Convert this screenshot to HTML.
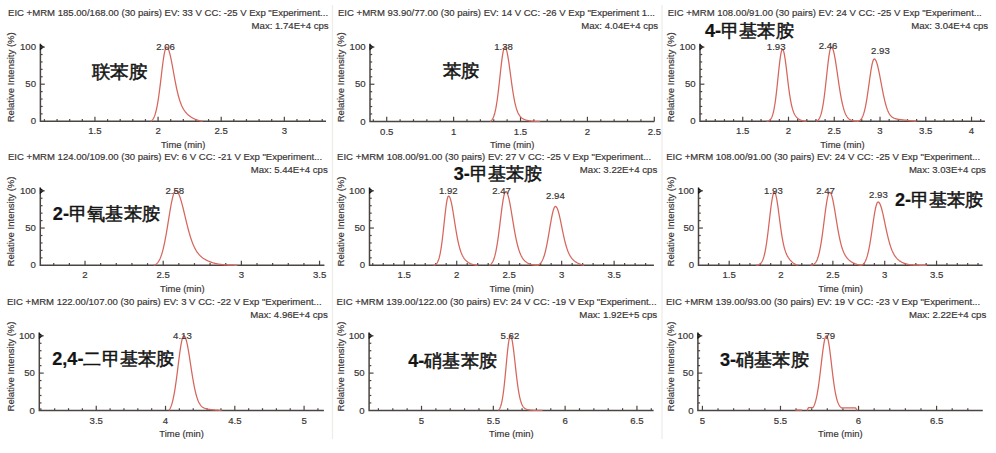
<!DOCTYPE html><html><head><meta charset="utf-8"><style>html,body{margin:0;padding:0;background:#fff;width:996px;height:453px;overflow:hidden}svg{display:block}</style></head><body>
<svg width="996" height="453" viewBox="0 0 996 453">
<rect width="996" height="453" fill="#fff"/>
<line x1="332.5" y1="5" x2="332.5" y2="439" stroke="#efedea" stroke-width="1.3"/>
<line x1="662.0" y1="5" x2="662.0" y2="439" stroke="#efedea" stroke-width="1.3"/>
<g font-family='"Liberation Sans", sans-serif'><text x="8.0" y="15.9" font-size="9.6" fill="#383434" stroke="#383434" stroke-width="0.18" textLength="320.1" lengthAdjust="spacingAndGlyphs">EIC +MRM 185.00/168.00 (30 pairs) EV: 33 V CC: -25 V Exp &quot;Experiment...</text><text x="251.6" y="28.5" font-size="9.6" fill="#383434" stroke="#383434" stroke-width="0.18" textLength="77.0" lengthAdjust="spacingAndGlyphs">Max: 1.74E+4 cps</text><text x="0" y="0" transform="translate(14.3,77.3) rotate(-90)" font-size="9.6" fill="#383434" stroke="#383434" stroke-width="0.18" text-anchor="middle" textLength="90" lengthAdjust="spacingAndGlyphs">Relative Intensity (%)</text><path d="M40.4,43.7 L40.4,121.3 L326.0,121.3" fill="none" stroke="#4a4542" stroke-width="1.5"/><path d="M39.9,43.7 L44.3,47.1 L39.9,50.5 Z" fill="#151515"/><line x1="40.4" y1="113.88" x2="42.6" y2="113.88" stroke="#4a4542" stroke-width="1.2"/><line x1="40.4" y1="106.46" x2="42.6" y2="106.46" stroke="#4a4542" stroke-width="1.2"/><line x1="40.4" y1="99.04" x2="42.6" y2="99.04" stroke="#4a4542" stroke-width="1.2"/><line x1="40.4" y1="91.62" x2="42.6" y2="91.62" stroke="#4a4542" stroke-width="1.2"/><line x1="40.4" y1="84.20" x2="44.8" y2="84.20" stroke="#4a4542" stroke-width="1.2"/><line x1="40.4" y1="76.78" x2="42.6" y2="76.78" stroke="#4a4542" stroke-width="1.2"/><line x1="40.4" y1="69.36" x2="42.6" y2="69.36" stroke="#4a4542" stroke-width="1.2"/><line x1="40.4" y1="61.94" x2="42.6" y2="61.94" stroke="#4a4542" stroke-width="1.2"/><line x1="40.4" y1="54.52" x2="42.6" y2="54.52" stroke="#4a4542" stroke-width="1.2"/><line x1="40.4" y1="47.10" x2="44.8" y2="47.10" stroke="#4a4542" stroke-width="1.2"/><text x="36.0" y="50.20" font-size="9.6" fill="#383434" stroke="#383434" stroke-width="0.18" text-anchor="end">100</text><text x="36.0" y="87.30" font-size="9.6" fill="#383434" stroke="#383434" stroke-width="0.18" text-anchor="end">50</text><text x="36.0" y="124.40" font-size="9.6" fill="#383434" stroke="#383434" stroke-width="0.18" text-anchor="end">0</text><line x1="44.44" y1="121.3" x2="44.44" y2="119.1" stroke="#4a4542" stroke-width="1.2"/><line x1="57.07" y1="121.3" x2="57.07" y2="119.1" stroke="#4a4542" stroke-width="1.2"/><line x1="69.69" y1="121.3" x2="69.69" y2="119.1" stroke="#4a4542" stroke-width="1.2"/><line x1="82.32" y1="121.3" x2="82.32" y2="119.1" stroke="#4a4542" stroke-width="1.2"/><line x1="94.94" y1="121.3" x2="94.94" y2="116.7" stroke="#4a4542" stroke-width="1.2"/><line x1="107.57" y1="121.3" x2="107.57" y2="119.1" stroke="#4a4542" stroke-width="1.2"/><line x1="120.20" y1="121.3" x2="120.20" y2="119.1" stroke="#4a4542" stroke-width="1.2"/><line x1="132.82" y1="121.3" x2="132.82" y2="119.1" stroke="#4a4542" stroke-width="1.2"/><line x1="145.45" y1="121.3" x2="145.45" y2="119.1" stroke="#4a4542" stroke-width="1.2"/><line x1="158.07" y1="121.3" x2="158.07" y2="116.7" stroke="#4a4542" stroke-width="1.2"/><line x1="170.70" y1="121.3" x2="170.70" y2="119.1" stroke="#4a4542" stroke-width="1.2"/><line x1="183.33" y1="121.3" x2="183.33" y2="119.1" stroke="#4a4542" stroke-width="1.2"/><line x1="195.95" y1="121.3" x2="195.95" y2="119.1" stroke="#4a4542" stroke-width="1.2"/><line x1="208.58" y1="121.3" x2="208.58" y2="119.1" stroke="#4a4542" stroke-width="1.2"/><line x1="221.20" y1="121.3" x2="221.20" y2="116.7" stroke="#4a4542" stroke-width="1.2"/><line x1="233.83" y1="121.3" x2="233.83" y2="119.1" stroke="#4a4542" stroke-width="1.2"/><line x1="246.46" y1="121.3" x2="246.46" y2="119.1" stroke="#4a4542" stroke-width="1.2"/><line x1="259.08" y1="121.3" x2="259.08" y2="119.1" stroke="#4a4542" stroke-width="1.2"/><line x1="271.71" y1="121.3" x2="271.71" y2="119.1" stroke="#4a4542" stroke-width="1.2"/><line x1="284.33" y1="121.3" x2="284.33" y2="116.7" stroke="#4a4542" stroke-width="1.2"/><line x1="296.96" y1="121.3" x2="296.96" y2="119.1" stroke="#4a4542" stroke-width="1.2"/><line x1="309.59" y1="121.3" x2="309.59" y2="119.1" stroke="#4a4542" stroke-width="1.2"/><line x1="322.21" y1="121.3" x2="322.21" y2="119.1" stroke="#4a4542" stroke-width="1.2"/><text x="94.94" y="134.40" font-size="9.6" fill="#383434" stroke="#383434" stroke-width="0.18" text-anchor="middle">1.5</text><text x="158.07" y="134.40" font-size="9.6" fill="#383434" stroke="#383434" stroke-width="0.18" text-anchor="middle">2</text><text x="221.20" y="134.40" font-size="9.6" fill="#383434" stroke="#383434" stroke-width="0.18" text-anchor="middle">2.5</text><text x="284.33" y="134.40" font-size="9.6" fill="#383434" stroke="#383434" stroke-width="0.18" text-anchor="middle">3</text><text x="183.20" y="147.50" font-size="9.6" fill="#383434" stroke="#383434" stroke-width="0.18" text-anchor="middle" textLength="44.5" lengthAdjust="spacingAndGlyphs">Time (min)</text><polyline points="150.50,121.30 150.83,121.12 151.16,120.92 151.50,120.68 151.83,120.40 152.16,120.08 152.49,119.71 152.82,119.28 153.15,118.80 153.49,118.25 153.82,117.62 154.15,116.92 154.48,116.13 154.81,115.25 155.15,114.26 155.48,113.18 155.81,111.98 156.14,110.67 156.47,109.24 156.81,107.69 157.14,106.01 157.47,104.21 157.80,102.28 158.13,100.22 158.46,98.05 158.80,95.76 159.13,93.36 159.46,90.86 159.79,88.27 160.12,85.61 160.46,82.88 160.79,80.12 161.12,77.32 161.45,74.53 161.78,71.75 162.11,69.01 162.45,66.33 162.78,63.73 163.11,61.25 163.44,58.90 163.77,56.71 164.11,54.70 164.44,52.88 164.77,51.29 165.10,49.94 165.43,48.83 165.76,47.99 166.10,47.43 166.43,47.14 166.76,47.12 167.09,47.26 167.42,47.55 167.76,47.99 168.09,48.57 168.42,49.29 168.75,50.13 169.08,51.11 169.42,52.20 169.75,53.41 170.08,54.72 170.41,56.12 170.74,57.62 171.07,59.18 171.41,60.82 171.74,62.51 172.07,64.25 172.40,66.03 172.73,67.84 173.07,69.66 173.40,71.50 173.73,73.34 174.06,75.17 174.39,76.99 174.72,78.78 175.06,80.55 175.39,82.29 175.72,83.98 176.05,85.64 176.38,87.25 176.72,88.81 177.05,90.31 177.38,91.76 177.71,93.16 178.04,94.50 178.38,95.78 178.71,97.01 179.04,98.18 179.37,99.29 179.70,100.35 180.03,101.35 180.37,102.31 180.70,103.21 181.03,104.07 181.36,104.88 181.69,105.65 182.03,106.37 182.36,107.06 182.69,107.71 183.02,108.33 183.35,108.91 183.68,109.47 184.02,109.99 184.35,110.49 184.68,110.97 185.01,111.42 185.34,111.85 185.68,112.26 186.01,112.65 186.34,113.03 186.67,113.39 187.00,113.73 187.34,114.06 187.67,114.38 188.00,114.69 188.33,114.98 188.66,115.27 188.99,115.54 189.33,115.81 189.66,116.06 189.99,116.31 190.32,116.55 190.65,116.78 190.99,117.00 191.32,117.22 191.65,117.43 191.98,117.63 192.31,117.82 192.64,118.01 192.98,118.20 193.31,118.37 193.64,118.54 193.97,118.70 194.30,118.86 194.64,119.02 194.97,119.16 195.30,119.30 195.63,119.44 195.96,119.57 196.29,119.70 196.63,119.82 196.96,119.94 197.29,120.05 197.62,120.15 197.95,120.26 198.29,120.36 198.62,120.45 198.95,120.54 199.28,120.63 199.61,120.71 199.95,120.79 200.28,120.86 200.61,120.94 200.94,121.00 201.27,121.07 201.60,121.13 201.94,121.19 202.27,121.25 202.60,121.30" fill="none" stroke="#d6655b" stroke-width="1.25" stroke-linejoin="round"/><text x="165.5" y="49.9" font-size="9.6" fill="#383434" stroke="#383434" stroke-width="0.18" text-anchor="middle">2.06</text><text x="91.9" y="78.3" font-size="18.0" fill="#141414" stroke="#141414" stroke-width="0.5" textLength="55.7" lengthAdjust="spacingAndGlyphs">联苯胺</text></g>
<g font-family='"Liberation Sans", sans-serif'><text x="338.0" y="15.9" font-size="9.6" fill="#383434" stroke="#383434" stroke-width="0.18" textLength="317.0" lengthAdjust="spacingAndGlyphs">EIC +MRM 93.90/77.00 (30 pairs) EV: 14 V CC: -26 V Exp &quot;Experiment 1...</text><text x="581.3" y="28.5" font-size="9.6" fill="#383434" stroke="#383434" stroke-width="0.18" textLength="76.7" lengthAdjust="spacingAndGlyphs">Max: 4.04E+4 cps</text><text x="0" y="0" transform="translate(344.3,77.3) rotate(-90)" font-size="9.6" fill="#383434" stroke="#383434" stroke-width="0.18" text-anchor="middle" textLength="90" lengthAdjust="spacingAndGlyphs">Relative Intensity (%)</text><path d="M370.0,43.7 L370.0,121.4 L654.3,121.4" fill="none" stroke="#4a4542" stroke-width="1.5"/><path d="M369.5,43.7 L373.9,47.1 L369.5,50.5 Z" fill="#151515"/><line x1="370.0" y1="113.97" x2="372.2" y2="113.97" stroke="#4a4542" stroke-width="1.2"/><line x1="370.0" y1="106.54" x2="372.2" y2="106.54" stroke="#4a4542" stroke-width="1.2"/><line x1="370.0" y1="99.11" x2="372.2" y2="99.11" stroke="#4a4542" stroke-width="1.2"/><line x1="370.0" y1="91.68" x2="372.2" y2="91.68" stroke="#4a4542" stroke-width="1.2"/><line x1="370.0" y1="84.25" x2="374.4" y2="84.25" stroke="#4a4542" stroke-width="1.2"/><line x1="370.0" y1="76.82" x2="372.2" y2="76.82" stroke="#4a4542" stroke-width="1.2"/><line x1="370.0" y1="69.39" x2="372.2" y2="69.39" stroke="#4a4542" stroke-width="1.2"/><line x1="370.0" y1="61.96" x2="372.2" y2="61.96" stroke="#4a4542" stroke-width="1.2"/><line x1="370.0" y1="54.53" x2="372.2" y2="54.53" stroke="#4a4542" stroke-width="1.2"/><line x1="370.0" y1="47.10" x2="374.4" y2="47.10" stroke="#4a4542" stroke-width="1.2"/><text x="365.6" y="50.20" font-size="9.6" fill="#383434" stroke="#383434" stroke-width="0.18" text-anchor="end">100</text><text x="365.6" y="87.35" font-size="9.6" fill="#383434" stroke="#383434" stroke-width="0.18" text-anchor="end">50</text><text x="365.6" y="124.50" font-size="9.6" fill="#383434" stroke="#383434" stroke-width="0.18" text-anchor="end">0</text><line x1="373.34" y1="121.4" x2="373.34" y2="119.2" stroke="#4a4542" stroke-width="1.2"/><line x1="386.72" y1="121.4" x2="386.72" y2="116.80000000000001" stroke="#4a4542" stroke-width="1.2"/><line x1="400.10" y1="121.4" x2="400.10" y2="119.2" stroke="#4a4542" stroke-width="1.2"/><line x1="413.48" y1="121.4" x2="413.48" y2="119.2" stroke="#4a4542" stroke-width="1.2"/><line x1="426.86" y1="121.4" x2="426.86" y2="119.2" stroke="#4a4542" stroke-width="1.2"/><line x1="440.24" y1="121.4" x2="440.24" y2="119.2" stroke="#4a4542" stroke-width="1.2"/><line x1="453.62" y1="121.4" x2="453.62" y2="116.80000000000001" stroke="#4a4542" stroke-width="1.2"/><line x1="467.00" y1="121.4" x2="467.00" y2="119.2" stroke="#4a4542" stroke-width="1.2"/><line x1="480.38" y1="121.4" x2="480.38" y2="119.2" stroke="#4a4542" stroke-width="1.2"/><line x1="493.75" y1="121.4" x2="493.75" y2="119.2" stroke="#4a4542" stroke-width="1.2"/><line x1="507.13" y1="121.4" x2="507.13" y2="119.2" stroke="#4a4542" stroke-width="1.2"/><line x1="520.51" y1="121.4" x2="520.51" y2="116.80000000000001" stroke="#4a4542" stroke-width="1.2"/><line x1="533.89" y1="121.4" x2="533.89" y2="119.2" stroke="#4a4542" stroke-width="1.2"/><line x1="547.27" y1="121.4" x2="547.27" y2="119.2" stroke="#4a4542" stroke-width="1.2"/><line x1="560.65" y1="121.4" x2="560.65" y2="119.2" stroke="#4a4542" stroke-width="1.2"/><line x1="574.03" y1="121.4" x2="574.03" y2="119.2" stroke="#4a4542" stroke-width="1.2"/><line x1="587.41" y1="121.4" x2="587.41" y2="116.80000000000001" stroke="#4a4542" stroke-width="1.2"/><line x1="600.78" y1="121.4" x2="600.78" y2="119.2" stroke="#4a4542" stroke-width="1.2"/><line x1="614.16" y1="121.4" x2="614.16" y2="119.2" stroke="#4a4542" stroke-width="1.2"/><line x1="627.54" y1="121.4" x2="627.54" y2="119.2" stroke="#4a4542" stroke-width="1.2"/><line x1="640.92" y1="121.4" x2="640.92" y2="119.2" stroke="#4a4542" stroke-width="1.2"/><line x1="654.30" y1="121.4" x2="654.30" y2="116.80000000000001" stroke="#4a4542" stroke-width="1.2"/><text x="386.72" y="134.50" font-size="9.6" fill="#383434" stroke="#383434" stroke-width="0.18" text-anchor="middle">0.5</text><text x="453.62" y="134.50" font-size="9.6" fill="#383434" stroke="#383434" stroke-width="0.18" text-anchor="middle">1</text><text x="520.51" y="134.50" font-size="9.6" fill="#383434" stroke="#383434" stroke-width="0.18" text-anchor="middle">1.5</text><text x="587.41" y="134.50" font-size="9.6" fill="#383434" stroke="#383434" stroke-width="0.18" text-anchor="middle">2</text><text x="654.30" y="134.50" font-size="9.6" fill="#383434" stroke="#383434" stroke-width="0.18" text-anchor="middle">2.5</text><text x="512.15" y="147.60" font-size="9.6" fill="#383434" stroke="#383434" stroke-width="0.18" text-anchor="middle" textLength="44.5" lengthAdjust="spacingAndGlyphs">Time (min)</text><polyline points="490.20,121.40 490.53,121.20 490.87,120.96 491.20,120.68 491.53,120.35 491.86,119.97 492.20,119.52 492.53,119.00 492.86,118.41 493.19,117.72 493.53,116.95 493.86,116.06 494.19,115.07 494.52,113.95 494.86,112.71 495.19,111.33 495.52,109.81 495.86,108.15 496.19,106.33 496.52,104.37 496.85,102.25 497.19,99.98 497.52,97.57 497.85,95.03 498.18,92.35 498.52,89.57 498.85,86.68 499.18,83.72 499.51,80.70 499.85,77.64 500.18,74.58 500.51,71.53 500.85,68.54 501.18,65.62 501.51,62.82 501.84,60.16 502.18,57.67 502.51,55.38 502.84,53.33 503.17,51.54 503.51,50.02 503.84,48.81 504.17,47.91 504.50,47.34 504.84,47.11 505.17,47.18 505.50,47.51 505.84,48.07 506.17,48.88 506.50,49.91 506.83,51.16 507.17,52.62 507.50,54.26 507.83,56.08 508.16,58.06 508.50,60.16 508.83,62.39 509.16,64.71 509.49,67.10 509.83,69.55 510.16,72.04 510.49,74.54 510.83,77.04 511.16,79.52 511.49,81.96 511.82,84.36 512.16,86.70 512.49,88.97 512.82,91.16 513.15,93.26 513.49,95.26 513.82,97.17 514.15,98.97 514.48,100.68 514.82,102.28 515.15,103.77 515.48,105.17 515.82,106.46 516.15,107.67 516.48,108.78 516.81,109.80 517.15,110.74 517.48,111.61 517.81,112.40 518.14,113.12 518.48,113.78 518.81,114.39 519.14,114.94 519.47,115.44 519.81,115.90 520.14,116.32 520.47,116.70 520.81,117.05 521.14,117.37 521.47,117.67 521.80,117.94 522.14,118.19 522.47,118.42 522.80,118.63 523.13,118.82 523.47,119.00 523.80,119.17 524.13,119.33 524.46,119.47 524.80,119.61 525.13,119.74 525.46,119.86 525.80,119.97 526.13,120.07 526.46,120.17 526.79,120.26 527.13,120.34 527.46,120.42 527.79,120.50 528.12,120.57 528.46,120.63 528.79,120.69 529.12,120.75 529.45,120.80 529.79,120.85 530.12,120.90 530.45,120.94 530.79,120.98 531.12,121.02 531.45,121.05 531.78,121.08 532.12,121.11 532.45,121.14 532.78,121.17 533.11,121.19 533.45,121.21 533.78,121.23 534.11,121.25 534.44,121.27 534.78,121.28 535.11,121.29 535.44,121.31 535.78,121.32 536.11,121.33 536.44,121.34 536.77,121.35 537.11,121.36 537.44,121.36 537.77,121.37 538.10,121.37 538.44,121.38 538.77,121.38 539.10,121.39 539.43,121.39 539.77,121.40 540.10,121.40" fill="none" stroke="#d6655b" stroke-width="1.25" stroke-linejoin="round"/><text x="503.5" y="49.9" font-size="9.6" fill="#383434" stroke="#383434" stroke-width="0.18" text-anchor="middle">1.38</text><text x="442.6" y="77.0" font-size="18.0" fill="#141414" stroke="#141414" stroke-width="0.5" textLength="36.6" lengthAdjust="spacingAndGlyphs">苯胺</text></g>
<g font-family='"Liberation Sans", sans-serif'><text x="667.7" y="15.9" font-size="9.6" fill="#383434" stroke="#383434" stroke-width="0.18" textLength="314.1" lengthAdjust="spacingAndGlyphs">EIC +MRM 108.00/91.00 (30 pairs) EV: 24 V CC: -25 V Exp &quot;Experiment...</text><text x="911.3" y="28.5" font-size="9.6" fill="#383434" stroke="#383434" stroke-width="0.18" textLength="76.8" lengthAdjust="spacingAndGlyphs">Max: 3.04E+4 cps</text><text x="0" y="0" transform="translate(674.3,77.3) rotate(-90)" font-size="9.6" fill="#383434" stroke="#383434" stroke-width="0.18" text-anchor="middle" textLength="90" lengthAdjust="spacingAndGlyphs">Relative Intensity (%)</text><path d="M700.0,43.7 L700.0,121.3 L984.9,121.3" fill="none" stroke="#4a4542" stroke-width="1.5"/><path d="M699.5,43.7 L703.9,47.1 L699.5,50.5 Z" fill="#151515"/><line x1="700.0" y1="113.88" x2="702.2" y2="113.88" stroke="#4a4542" stroke-width="1.2"/><line x1="700.0" y1="106.46" x2="702.2" y2="106.46" stroke="#4a4542" stroke-width="1.2"/><line x1="700.0" y1="99.04" x2="702.2" y2="99.04" stroke="#4a4542" stroke-width="1.2"/><line x1="700.0" y1="91.62" x2="702.2" y2="91.62" stroke="#4a4542" stroke-width="1.2"/><line x1="700.0" y1="84.20" x2="704.4" y2="84.20" stroke="#4a4542" stroke-width="1.2"/><line x1="700.0" y1="76.78" x2="702.2" y2="76.78" stroke="#4a4542" stroke-width="1.2"/><line x1="700.0" y1="69.36" x2="702.2" y2="69.36" stroke="#4a4542" stroke-width="1.2"/><line x1="700.0" y1="61.94" x2="702.2" y2="61.94" stroke="#4a4542" stroke-width="1.2"/><line x1="700.0" y1="54.52" x2="702.2" y2="54.52" stroke="#4a4542" stroke-width="1.2"/><line x1="700.0" y1="47.10" x2="704.4" y2="47.10" stroke="#4a4542" stroke-width="1.2"/><text x="695.6" y="50.20" font-size="9.6" fill="#383434" stroke="#383434" stroke-width="0.18" text-anchor="end">100</text><text x="695.6" y="87.30" font-size="9.6" fill="#383434" stroke="#383434" stroke-width="0.18" text-anchor="end">50</text><text x="695.6" y="124.40" font-size="9.6" fill="#383434" stroke="#383434" stroke-width="0.18" text-anchor="end">0</text><line x1="706.13" y1="121.3" x2="706.13" y2="119.1" stroke="#4a4542" stroke-width="1.2"/><line x1="715.28" y1="121.3" x2="715.28" y2="119.1" stroke="#4a4542" stroke-width="1.2"/><line x1="724.44" y1="121.3" x2="724.44" y2="119.1" stroke="#4a4542" stroke-width="1.2"/><line x1="733.59" y1="121.3" x2="733.59" y2="119.1" stroke="#4a4542" stroke-width="1.2"/><line x1="742.74" y1="121.3" x2="742.74" y2="116.7" stroke="#4a4542" stroke-width="1.2"/><line x1="751.89" y1="121.3" x2="751.89" y2="119.1" stroke="#4a4542" stroke-width="1.2"/><line x1="761.04" y1="121.3" x2="761.04" y2="119.1" stroke="#4a4542" stroke-width="1.2"/><line x1="770.20" y1="121.3" x2="770.20" y2="119.1" stroke="#4a4542" stroke-width="1.2"/><line x1="779.35" y1="121.3" x2="779.35" y2="119.1" stroke="#4a4542" stroke-width="1.2"/><line x1="788.50" y1="121.3" x2="788.50" y2="116.7" stroke="#4a4542" stroke-width="1.2"/><line x1="797.65" y1="121.3" x2="797.65" y2="119.1" stroke="#4a4542" stroke-width="1.2"/><line x1="806.80" y1="121.3" x2="806.80" y2="119.1" stroke="#4a4542" stroke-width="1.2"/><line x1="815.96" y1="121.3" x2="815.96" y2="119.1" stroke="#4a4542" stroke-width="1.2"/><line x1="825.11" y1="121.3" x2="825.11" y2="119.1" stroke="#4a4542" stroke-width="1.2"/><line x1="834.26" y1="121.3" x2="834.26" y2="116.7" stroke="#4a4542" stroke-width="1.2"/><line x1="843.41" y1="121.3" x2="843.41" y2="119.1" stroke="#4a4542" stroke-width="1.2"/><line x1="852.56" y1="121.3" x2="852.56" y2="119.1" stroke="#4a4542" stroke-width="1.2"/><line x1="861.71" y1="121.3" x2="861.71" y2="119.1" stroke="#4a4542" stroke-width="1.2"/><line x1="870.87" y1="121.3" x2="870.87" y2="119.1" stroke="#4a4542" stroke-width="1.2"/><line x1="880.02" y1="121.3" x2="880.02" y2="116.7" stroke="#4a4542" stroke-width="1.2"/><line x1="889.17" y1="121.3" x2="889.17" y2="119.1" stroke="#4a4542" stroke-width="1.2"/><line x1="898.32" y1="121.3" x2="898.32" y2="119.1" stroke="#4a4542" stroke-width="1.2"/><line x1="907.47" y1="121.3" x2="907.47" y2="119.1" stroke="#4a4542" stroke-width="1.2"/><line x1="916.63" y1="121.3" x2="916.63" y2="119.1" stroke="#4a4542" stroke-width="1.2"/><line x1="925.78" y1="121.3" x2="925.78" y2="116.7" stroke="#4a4542" stroke-width="1.2"/><line x1="934.93" y1="121.3" x2="934.93" y2="119.1" stroke="#4a4542" stroke-width="1.2"/><line x1="944.08" y1="121.3" x2="944.08" y2="119.1" stroke="#4a4542" stroke-width="1.2"/><line x1="953.23" y1="121.3" x2="953.23" y2="119.1" stroke="#4a4542" stroke-width="1.2"/><line x1="962.39" y1="121.3" x2="962.39" y2="119.1" stroke="#4a4542" stroke-width="1.2"/><line x1="971.54" y1="121.3" x2="971.54" y2="116.7" stroke="#4a4542" stroke-width="1.2"/><line x1="980.69" y1="121.3" x2="980.69" y2="119.1" stroke="#4a4542" stroke-width="1.2"/><text x="742.74" y="134.40" font-size="9.6" fill="#383434" stroke="#383434" stroke-width="0.18" text-anchor="middle">1.5</text><text x="788.50" y="134.40" font-size="9.6" fill="#383434" stroke="#383434" stroke-width="0.18" text-anchor="middle">2</text><text x="834.26" y="134.40" font-size="9.6" fill="#383434" stroke="#383434" stroke-width="0.18" text-anchor="middle">2.5</text><text x="880.02" y="134.40" font-size="9.6" fill="#383434" stroke="#383434" stroke-width="0.18" text-anchor="middle">3</text><text x="925.78" y="134.40" font-size="9.6" fill="#383434" stroke="#383434" stroke-width="0.18" text-anchor="middle">3.5</text><text x="971.54" y="134.40" font-size="9.6" fill="#383434" stroke="#383434" stroke-width="0.18" text-anchor="middle">4</text><text x="842.45" y="147.50" font-size="9.6" fill="#383434" stroke="#383434" stroke-width="0.18" text-anchor="middle" textLength="44.5" lengthAdjust="spacingAndGlyphs">Time (min)</text><polyline points="766.70,121.30 767.03,121.26 767.37,121.20 767.70,121.13 768.03,121.04 768.36,120.93 768.70,120.80 769.03,120.64 769.36,120.44 769.69,120.20 770.03,119.91 770.36,119.56 770.69,119.15 771.02,118.66 771.36,118.09 771.69,117.43 772.02,116.66 772.35,115.78 772.69,114.77 773.02,113.62 773.35,112.33 773.68,110.87 774.01,109.26 774.35,107.48 774.68,105.52 775.01,103.38 775.35,101.08 775.68,98.60 776.01,95.96 776.34,93.17 776.68,90.25 777.01,87.21 777.34,84.08 777.67,80.88 778.00,77.66 778.34,74.43 778.67,71.24 779.00,68.13 779.34,65.13 779.67,62.29 780.00,59.64 780.33,57.23 780.67,55.08 781.00,53.24 781.33,51.72 781.66,50.56 782.00,49.78 782.33,49.38 782.66,49.37 782.99,49.70 783.33,50.36 783.66,51.34 783.99,52.62 784.32,54.20 784.66,56.03 784.99,58.10 785.32,60.37 785.65,62.82 785.99,65.40 786.32,68.10 786.65,70.86 786.98,73.67 787.32,76.50 787.65,79.30 787.98,82.07 788.31,84.77 788.64,87.39 788.98,89.91 789.31,92.32 789.64,94.60 789.98,96.76 790.31,98.78 790.64,100.67 790.97,102.43 791.31,104.05 791.64,105.54 791.97,106.92 792.30,108.18 792.63,109.33 792.97,110.38 793.30,111.33 793.63,112.20 793.97,112.99 794.30,113.71 794.63,114.36 794.96,114.96 795.30,115.50 795.63,115.99 795.96,116.45 796.29,116.86 796.62,117.24 796.96,117.59 797.29,117.92 797.62,118.21 797.96,118.49 798.29,118.74 798.62,118.97 798.95,119.19 799.29,119.39 799.62,119.57 799.95,119.74 800.28,119.90 800.62,120.04 800.95,120.18 801.28,120.30 801.61,120.42 801.95,120.52 802.28,120.62 802.61,120.70 802.94,120.78 803.27,120.86 803.61,120.92 803.94,120.98 804.27,121.04 804.61,121.09 804.94,121.13 805.27,121.17 805.60,121.21 805.94,121.24 806.27,121.27 806.60,121.30" fill="none" stroke="#d6655b" stroke-width="1.25" stroke-linejoin="round"/><polyline points="815.90,121.30 816.23,121.19 816.56,121.06 816.89,120.90 817.23,120.71 817.56,120.48 817.89,120.21 818.22,119.89 818.55,119.52 818.88,119.08 819.21,118.57 819.55,117.99 819.88,117.31 820.21,116.54 820.54,115.66 820.87,114.67 821.20,113.56 821.54,112.32 821.87,110.94 822.20,109.41 822.53,107.73 822.86,105.90 823.19,103.92 823.52,101.78 823.86,99.49 824.19,97.05 824.52,94.47 824.85,91.76 825.18,88.93 825.51,86.01 825.84,83.01 826.18,79.95 826.51,76.87 826.84,73.78 827.17,70.71 827.50,67.70 827.83,64.78 828.17,61.99 828.50,59.34 828.83,56.89 829.16,54.65 829.49,52.66 829.82,50.94 830.15,49.52 830.49,48.41 830.82,47.64 831.15,47.20 831.48,47.11 831.81,47.26 832.14,47.61 832.47,48.17 832.81,48.92 833.14,49.86 833.47,50.97 833.80,52.27 834.13,53.72 834.46,55.32 834.80,57.05 835.13,58.91 835.46,60.88 835.79,62.94 836.12,65.08 836.45,67.28 836.78,69.53 837.12,71.82 837.45,74.12 837.78,76.44 838.11,78.74 838.44,81.03 838.77,83.29 839.10,85.50 839.44,87.67 839.77,89.78 840.10,91.83 840.43,93.81 840.76,95.71 841.09,97.53 841.43,99.27 841.76,100.93 842.09,102.50 842.42,103.98 842.75,105.38 843.08,106.69 843.41,107.92 843.75,109.07 844.08,110.14 844.41,111.13 844.74,112.06 845.07,112.91 845.40,113.69 845.73,114.41 846.07,115.08 846.40,115.68 846.73,116.24 847.06,116.74 847.39,117.21 847.72,117.63 848.06,118.01 848.39,118.35 848.72,118.67 849.05,118.95 849.38,119.21 849.71,119.44 850.04,119.65 850.38,119.83 850.71,120.00 851.04,120.15 851.37,120.29 851.70,120.41 852.03,120.52 852.36,120.62 852.70,120.70 853.03,120.78 853.36,120.85 853.69,120.91 854.02,120.97 854.35,121.02 854.69,121.06 855.02,121.10 855.35,121.13 855.68,121.17 856.01,121.19 856.34,121.22 856.67,121.24 857.01,121.26 857.34,121.27 857.67,121.29 858.00,121.30" fill="none" stroke="#d6655b" stroke-width="1.25" stroke-linejoin="round"/><polyline points="858.00,121.30 858.33,121.19 858.66,121.06 859.00,120.91 859.33,120.73 859.66,120.52 859.99,120.27 860.33,119.99 860.66,119.66 860.99,119.28 861.32,118.84 861.66,118.35 861.99,117.79 862.32,117.15 862.65,116.44 862.99,115.65 863.32,114.76 863.65,113.78 863.98,112.69 864.32,111.51 864.65,110.21 864.98,108.81 865.31,107.29 865.64,105.66 865.98,103.92 866.31,102.07 866.64,100.12 866.97,98.07 867.31,95.93 867.64,93.71 867.97,91.42 868.30,89.08 868.64,86.69 868.97,84.29 869.30,81.87 869.63,79.48 869.97,77.12 870.30,74.81 870.63,72.59 870.96,70.46 871.30,68.46 871.63,66.61 871.96,64.91 872.29,63.40 872.62,62.09 872.96,60.99 873.29,60.12 873.62,59.49 873.95,59.11 874.29,58.97 874.62,59.04 874.95,59.25 875.28,59.61 875.62,60.10 875.95,60.74 876.28,61.50 876.61,62.40 876.95,63.41 877.28,64.54 877.61,65.77 877.94,67.10 878.28,68.52 878.61,70.02 878.94,71.59 879.27,73.22 879.61,74.90 879.94,76.62 880.27,78.37 880.60,80.14 880.93,81.92 881.27,83.71 881.60,85.49 881.93,87.25 882.26,88.99 882.60,90.71 882.93,92.38 883.26,94.02 883.59,95.61 883.93,97.15 884.26,98.64 884.59,100.07 884.92,101.44 885.26,102.74 885.59,103.99 885.92,105.17 886.25,106.29 886.59,107.34 886.92,108.33 887.25,109.26 887.58,110.12 887.91,110.93 888.25,111.68 888.58,112.38 888.91,113.02 889.24,113.61 889.58,114.16 889.91,114.66 890.24,115.12 890.57,115.54 890.91,115.92 891.24,116.27 891.57,116.59 891.90,116.88 892.24,117.14 892.57,117.38 892.90,117.59 893.23,117.79 893.57,117.96 893.90,118.12 894.23,118.27 894.56,118.40 894.89,118.52 895.23,118.63 895.56,118.72 895.89,118.82 896.22,118.90 896.56,118.98 896.89,119.05 897.22,119.11 897.55,119.18 897.89,119.23 898.22,119.29 898.55,119.34 898.88,119.39 899.22,119.44 899.55,119.49 899.88,119.53 900.21,119.58 900.55,119.62 900.88,119.66 901.21,119.70 901.54,119.74 901.88,119.78 902.21,119.82 902.54,119.86 902.87,119.90 903.20,119.93 903.54,119.97 903.87,120.01 904.20,120.05 904.53,120.08 904.87,120.12 905.20,120.16 905.53,120.20 905.86,120.23 906.20,120.27 906.53,120.30 906.86,120.34 907.19,120.38 907.53,120.41 907.86,120.45 908.19,120.48 908.52,120.52 908.86,120.55 909.19,120.59 909.52,120.62 909.85,120.66 910.18,120.69 910.52,120.73 910.85,120.76 911.18,120.79 911.51,120.83 911.85,120.86 912.18,120.89 912.51,120.93 912.84,120.96 913.18,120.99 913.51,121.02 913.84,121.06 914.17,121.09 914.51,121.12 914.84,121.15 915.17,121.18 915.50,121.21 915.84,121.24 916.17,121.27 916.50,121.30" fill="none" stroke="#d6655b" stroke-width="1.25" stroke-linejoin="round"/><text x="776.2" y="49.5" font-size="9.6" fill="#383434" stroke="#383434" stroke-width="0.18" text-anchor="middle">1.93</text><text x="828.1" y="49.3" font-size="9.6" fill="#383434" stroke="#383434" stroke-width="0.18" text-anchor="middle">2.46</text><text x="880.4" y="54.3" font-size="9.6" fill="#383434" stroke="#383434" stroke-width="0.18" text-anchor="middle">2.93</text><text x="704.9" y="37.4" font-size="18.0" fill="#141414" stroke="#141414" stroke-width="0.5" textLength="89.0" lengthAdjust="spacingAndGlyphs"><tspan font-weight="bold" stroke-width="0.2">4-</tspan>甲基苯胺</text></g>
<g font-family='"Liberation Sans", sans-serif'><text x="8.0" y="160.1" font-size="9.6" fill="#383434" stroke="#383434" stroke-width="0.18" textLength="314.1" lengthAdjust="spacingAndGlyphs">EIC +MRM 124.00/109.00 (30 pairs) EV: 6 V CC: -21 V Exp &quot;Experiment...</text><text x="250.8" y="172.6" font-size="9.6" fill="#383434" stroke="#383434" stroke-width="0.18" textLength="76.9" lengthAdjust="spacingAndGlyphs">Max: 5.44E+4 cps</text><text x="0" y="0" transform="translate(14.3,221.5) rotate(-90)" font-size="9.6" fill="#383434" stroke="#383434" stroke-width="0.18" text-anchor="middle" textLength="90" lengthAdjust="spacingAndGlyphs">Relative Intensity (%)</text><path d="M40.3,187.4 L40.3,265.3 L324.4,265.3" fill="none" stroke="#4a4542" stroke-width="1.5"/><path d="M39.8,187.4 L44.199999999999996,190.8 L39.8,194.20000000000002 Z" fill="#151515"/><line x1="40.3" y1="257.85" x2="42.5" y2="257.85" stroke="#4a4542" stroke-width="1.2"/><line x1="40.3" y1="250.40" x2="42.5" y2="250.40" stroke="#4a4542" stroke-width="1.2"/><line x1="40.3" y1="242.95" x2="42.5" y2="242.95" stroke="#4a4542" stroke-width="1.2"/><line x1="40.3" y1="235.50" x2="42.5" y2="235.50" stroke="#4a4542" stroke-width="1.2"/><line x1="40.3" y1="228.05" x2="44.699999999999996" y2="228.05" stroke="#4a4542" stroke-width="1.2"/><line x1="40.3" y1="220.60" x2="42.5" y2="220.60" stroke="#4a4542" stroke-width="1.2"/><line x1="40.3" y1="213.15" x2="42.5" y2="213.15" stroke="#4a4542" stroke-width="1.2"/><line x1="40.3" y1="205.70" x2="42.5" y2="205.70" stroke="#4a4542" stroke-width="1.2"/><line x1="40.3" y1="198.25" x2="42.5" y2="198.25" stroke="#4a4542" stroke-width="1.2"/><line x1="40.3" y1="190.80" x2="44.699999999999996" y2="190.80" stroke="#4a4542" stroke-width="1.2"/><text x="35.9" y="193.90" font-size="9.6" fill="#383434" stroke="#383434" stroke-width="0.18" text-anchor="end">100</text><text x="35.9" y="231.15" font-size="9.6" fill="#383434" stroke="#383434" stroke-width="0.18" text-anchor="end">50</text><text x="35.9" y="268.40" font-size="9.6" fill="#383434" stroke="#383434" stroke-width="0.18" text-anchor="end">0</text><line x1="53.75" y1="265.3" x2="53.75" y2="263.1" stroke="#4a4542" stroke-width="1.2"/><line x1="69.38" y1="265.3" x2="69.38" y2="263.1" stroke="#4a4542" stroke-width="1.2"/><line x1="85.02" y1="265.3" x2="85.02" y2="260.7" stroke="#4a4542" stroke-width="1.2"/><line x1="100.65" y1="265.3" x2="100.65" y2="263.1" stroke="#4a4542" stroke-width="1.2"/><line x1="116.29" y1="265.3" x2="116.29" y2="263.1" stroke="#4a4542" stroke-width="1.2"/><line x1="131.92" y1="265.3" x2="131.92" y2="263.1" stroke="#4a4542" stroke-width="1.2"/><line x1="147.56" y1="265.3" x2="147.56" y2="263.1" stroke="#4a4542" stroke-width="1.2"/><line x1="163.20" y1="265.3" x2="163.20" y2="260.7" stroke="#4a4542" stroke-width="1.2"/><line x1="178.83" y1="265.3" x2="178.83" y2="263.1" stroke="#4a4542" stroke-width="1.2"/><line x1="194.47" y1="265.3" x2="194.47" y2="263.1" stroke="#4a4542" stroke-width="1.2"/><line x1="210.10" y1="265.3" x2="210.10" y2="263.1" stroke="#4a4542" stroke-width="1.2"/><line x1="225.74" y1="265.3" x2="225.74" y2="263.1" stroke="#4a4542" stroke-width="1.2"/><line x1="241.37" y1="265.3" x2="241.37" y2="260.7" stroke="#4a4542" stroke-width="1.2"/><line x1="257.01" y1="265.3" x2="257.01" y2="263.1" stroke="#4a4542" stroke-width="1.2"/><line x1="272.65" y1="265.3" x2="272.65" y2="263.1" stroke="#4a4542" stroke-width="1.2"/><line x1="288.28" y1="265.3" x2="288.28" y2="263.1" stroke="#4a4542" stroke-width="1.2"/><line x1="303.92" y1="265.3" x2="303.92" y2="263.1" stroke="#4a4542" stroke-width="1.2"/><line x1="319.55" y1="265.3" x2="319.55" y2="260.7" stroke="#4a4542" stroke-width="1.2"/><text x="85.02" y="278.40" font-size="9.6" fill="#383434" stroke="#383434" stroke-width="0.18" text-anchor="middle">2</text><text x="163.20" y="278.40" font-size="9.6" fill="#383434" stroke="#383434" stroke-width="0.18" text-anchor="middle">2.5</text><text x="241.37" y="278.40" font-size="9.6" fill="#383434" stroke="#383434" stroke-width="0.18" text-anchor="middle">3</text><text x="319.55" y="278.40" font-size="9.6" fill="#383434" stroke="#383434" stroke-width="0.18" text-anchor="middle">3.5</text><text x="182.35" y="291.50" font-size="9.6" fill="#383434" stroke="#383434" stroke-width="0.18" text-anchor="middle" textLength="44.5" lengthAdjust="spacingAndGlyphs">Time (min)</text><polyline points="153.90,265.30 154.23,265.17 154.57,265.03 154.90,264.87 155.23,264.69 155.56,264.49 155.90,264.26 156.23,264.01 156.56,263.74 156.89,263.43 157.23,263.09 157.56,262.72 157.89,262.32 158.22,261.87 158.56,261.38 158.89,260.85 159.22,260.26 159.56,259.63 159.89,258.95 160.22,258.22 160.55,257.42 160.89,256.57 161.22,255.65 161.55,254.68 161.88,253.63 162.22,252.52 162.55,251.35 162.88,250.10 163.21,248.79 163.55,247.40 163.88,245.95 164.21,244.43 164.55,242.85 164.88,241.20 165.21,239.49 165.54,237.71 165.88,235.89 166.21,234.01 166.54,232.09 166.87,230.13 167.21,228.13 167.54,226.10 167.87,224.05 168.20,221.99 168.54,219.92 168.87,217.85 169.20,215.80 169.54,213.76 169.87,211.76 170.20,209.79 170.53,207.87 170.87,206.01 171.20,204.22 171.53,202.50 171.86,200.87 172.20,199.34 172.53,197.91 172.86,196.59 173.19,195.39 173.53,194.32 173.86,193.38 174.19,192.58 174.53,191.92 174.86,191.42 175.19,191.06 175.52,190.85 175.86,190.80 176.19,190.86 176.52,191.00 176.85,191.22 177.19,191.53 177.52,191.92 177.85,192.39 178.18,192.94 178.52,193.57 178.85,194.26 179.18,195.03 179.52,195.87 179.85,196.77 180.18,197.73 180.51,198.76 180.85,199.83 181.18,200.95 181.51,202.12 181.84,203.34 182.18,204.59 182.51,205.87 182.84,207.18 183.17,208.52 183.51,209.88 183.84,211.25 184.17,212.64 184.51,214.04 184.84,215.44 185.17,216.84 185.50,218.24 185.84,219.64 186.17,221.02 186.50,222.40 186.83,223.76 187.17,225.10 187.50,226.42 187.83,227.72 188.16,229.00 188.50,230.25 188.83,231.48 189.16,232.67 189.50,233.84 189.83,234.97 190.16,236.08 190.49,237.15 190.83,238.19 191.16,239.19 191.49,240.17 191.82,241.11 192.16,242.01 192.49,242.89 192.82,243.73 193.15,244.54 193.49,245.32 193.82,246.07 194.15,246.78 194.49,247.47 194.82,248.13 195.15,248.77 195.48,249.38 195.82,249.96 196.15,250.51 196.48,251.05 196.81,251.56 197.15,252.05 197.48,252.52 197.81,252.97 198.15,253.40 198.48,253.81 198.81,254.21 199.14,254.59 199.48,254.95 199.81,255.30 200.14,255.64 200.47,255.96 200.81,256.27 201.14,256.57 201.47,256.86 201.80,257.14 202.14,257.41 202.47,257.67 202.80,257.91 203.14,258.16 203.47,258.39 203.80,258.62 204.13,258.83 204.47,259.05 204.80,259.25 205.13,259.45 205.46,259.64 205.80,259.83 206.13,260.01 206.46,260.19 206.79,260.36 207.13,260.53 207.46,260.69 207.79,260.84 208.13,261.00 208.46,261.15 208.79,261.29 209.12,261.43 209.46,261.57 209.79,261.70 210.12,261.83 210.45,261.95 210.79,262.08 211.12,262.19 211.45,262.31 211.78,262.42 212.12,262.53 212.45,262.63 212.78,262.74 213.12,262.83 213.45,262.93 213.78,263.02 214.11,263.11 214.45,263.20 214.78,263.29 215.11,263.37 215.44,263.45 215.78,263.52 216.11,263.60 216.44,263.67 216.77,263.74 217.11,263.81 217.44,263.87 217.77,263.94 218.11,264.00 218.44,264.05 218.77,264.11 219.10,264.16 219.44,264.22 219.77,264.27 220.10,264.32 220.43,264.36 220.77,264.41 221.10,264.45 221.43,264.49 221.76,264.53 222.10,264.57 222.43,264.61 222.76,264.64 223.10,264.68 223.43,264.71 223.76,264.74 224.09,264.77 224.43,264.80 224.76,264.83 225.09,264.85 225.42,264.88 225.76,264.90 226.09,264.93 226.42,264.95 226.75,264.97 227.09,264.99 227.42,265.01 227.75,265.03 228.09,265.04 228.42,265.06 228.75,265.08 229.08,265.09 229.42,265.11 229.75,265.12 230.08,265.13 230.41,265.15 230.75,265.16 231.08,265.17 231.41,265.18 231.74,265.19 232.08,265.20 232.41,265.21 232.74,265.22 233.08,265.23 233.41,265.23 233.74,265.24 234.07,265.25 234.41,265.25 234.74,265.26 235.07,265.27 235.40,265.27 235.74,265.28 236.07,265.28 236.40,265.29 236.73,265.29 237.07,265.30 237.40,265.30" fill="none" stroke="#d6655b" stroke-width="1.25" stroke-linejoin="round"/><text x="174.8" y="193.5" font-size="9.6" fill="#383434" stroke="#383434" stroke-width="0.18" text-anchor="middle">2.58</text><text x="52.8" y="219.9" font-size="18.0" fill="#141414" stroke="#141414" stroke-width="0.5" textLength="107.3" lengthAdjust="spacingAndGlyphs"><tspan font-weight="bold" stroke-width="0.2">2-</tspan>甲氧基苯胺</text></g>
<g font-family='"Liberation Sans", sans-serif'><text x="337.1" y="160.0" font-size="9.6" fill="#383434" stroke="#383434" stroke-width="0.18" textLength="314.0" lengthAdjust="spacingAndGlyphs">EIC +MRM 108.00/91.00 (30 pairs) EV: 27 V CC: -25 V Exp &quot;Experiment...</text><text x="579.8" y="172.6" font-size="9.6" fill="#383434" stroke="#383434" stroke-width="0.18" textLength="77.4" lengthAdjust="spacingAndGlyphs">Max: 3.22E+4 cps</text><text x="0" y="0" transform="translate(344.3,221.5) rotate(-90)" font-size="9.6" fill="#383434" stroke="#383434" stroke-width="0.18" text-anchor="middle" textLength="90" lengthAdjust="spacingAndGlyphs">Relative Intensity (%)</text><path d="M369.5,187.4 L369.5,265.3 L653.9,265.3" fill="none" stroke="#4a4542" stroke-width="1.5"/><path d="M369.0,187.4 L373.4,190.8 L369.0,194.20000000000002 Z" fill="#151515"/><line x1="369.5" y1="257.85" x2="371.7" y2="257.85" stroke="#4a4542" stroke-width="1.2"/><line x1="369.5" y1="250.40" x2="371.7" y2="250.40" stroke="#4a4542" stroke-width="1.2"/><line x1="369.5" y1="242.95" x2="371.7" y2="242.95" stroke="#4a4542" stroke-width="1.2"/><line x1="369.5" y1="235.50" x2="371.7" y2="235.50" stroke="#4a4542" stroke-width="1.2"/><line x1="369.5" y1="228.05" x2="373.9" y2="228.05" stroke="#4a4542" stroke-width="1.2"/><line x1="369.5" y1="220.60" x2="371.7" y2="220.60" stroke="#4a4542" stroke-width="1.2"/><line x1="369.5" y1="213.15" x2="371.7" y2="213.15" stroke="#4a4542" stroke-width="1.2"/><line x1="369.5" y1="205.70" x2="371.7" y2="205.70" stroke="#4a4542" stroke-width="1.2"/><line x1="369.5" y1="198.25" x2="371.7" y2="198.25" stroke="#4a4542" stroke-width="1.2"/><line x1="369.5" y1="190.80" x2="373.9" y2="190.80" stroke="#4a4542" stroke-width="1.2"/><text x="365.1" y="193.90" font-size="9.6" fill="#383434" stroke="#383434" stroke-width="0.18" text-anchor="end">100</text><text x="365.1" y="231.15" font-size="9.6" fill="#383434" stroke="#383434" stroke-width="0.18" text-anchor="end">50</text><text x="365.1" y="268.40" font-size="9.6" fill="#383434" stroke="#383434" stroke-width="0.18" text-anchor="end">0</text><line x1="372.75" y1="265.3" x2="372.75" y2="263.1" stroke="#4a4542" stroke-width="1.2"/><line x1="383.25" y1="265.3" x2="383.25" y2="263.1" stroke="#4a4542" stroke-width="1.2"/><line x1="393.74" y1="265.3" x2="393.74" y2="263.1" stroke="#4a4542" stroke-width="1.2"/><line x1="404.24" y1="265.3" x2="404.24" y2="260.7" stroke="#4a4542" stroke-width="1.2"/><line x1="414.73" y1="265.3" x2="414.73" y2="263.1" stroke="#4a4542" stroke-width="1.2"/><line x1="425.23" y1="265.3" x2="425.23" y2="263.1" stroke="#4a4542" stroke-width="1.2"/><line x1="435.72" y1="265.3" x2="435.72" y2="263.1" stroke="#4a4542" stroke-width="1.2"/><line x1="446.21" y1="265.3" x2="446.21" y2="263.1" stroke="#4a4542" stroke-width="1.2"/><line x1="456.71" y1="265.3" x2="456.71" y2="260.7" stroke="#4a4542" stroke-width="1.2"/><line x1="467.20" y1="265.3" x2="467.20" y2="263.1" stroke="#4a4542" stroke-width="1.2"/><line x1="477.70" y1="265.3" x2="477.70" y2="263.1" stroke="#4a4542" stroke-width="1.2"/><line x1="488.19" y1="265.3" x2="488.19" y2="263.1" stroke="#4a4542" stroke-width="1.2"/><line x1="498.69" y1="265.3" x2="498.69" y2="263.1" stroke="#4a4542" stroke-width="1.2"/><line x1="509.18" y1="265.3" x2="509.18" y2="260.7" stroke="#4a4542" stroke-width="1.2"/><line x1="519.68" y1="265.3" x2="519.68" y2="263.1" stroke="#4a4542" stroke-width="1.2"/><line x1="530.17" y1="265.3" x2="530.17" y2="263.1" stroke="#4a4542" stroke-width="1.2"/><line x1="540.66" y1="265.3" x2="540.66" y2="263.1" stroke="#4a4542" stroke-width="1.2"/><line x1="551.16" y1="265.3" x2="551.16" y2="263.1" stroke="#4a4542" stroke-width="1.2"/><line x1="561.65" y1="265.3" x2="561.65" y2="260.7" stroke="#4a4542" stroke-width="1.2"/><line x1="572.15" y1="265.3" x2="572.15" y2="263.1" stroke="#4a4542" stroke-width="1.2"/><line x1="582.64" y1="265.3" x2="582.64" y2="263.1" stroke="#4a4542" stroke-width="1.2"/><line x1="593.14" y1="265.3" x2="593.14" y2="263.1" stroke="#4a4542" stroke-width="1.2"/><line x1="603.63" y1="265.3" x2="603.63" y2="263.1" stroke="#4a4542" stroke-width="1.2"/><line x1="614.13" y1="265.3" x2="614.13" y2="260.7" stroke="#4a4542" stroke-width="1.2"/><line x1="624.62" y1="265.3" x2="624.62" y2="263.1" stroke="#4a4542" stroke-width="1.2"/><line x1="635.11" y1="265.3" x2="635.11" y2="263.1" stroke="#4a4542" stroke-width="1.2"/><line x1="645.61" y1="265.3" x2="645.61" y2="263.1" stroke="#4a4542" stroke-width="1.2"/><text x="404.24" y="278.40" font-size="9.6" fill="#383434" stroke="#383434" stroke-width="0.18" text-anchor="middle">1.5</text><text x="456.71" y="278.40" font-size="9.6" fill="#383434" stroke="#383434" stroke-width="0.18" text-anchor="middle">2</text><text x="509.18" y="278.40" font-size="9.6" fill="#383434" stroke="#383434" stroke-width="0.18" text-anchor="middle">2.5</text><text x="561.65" y="278.40" font-size="9.6" fill="#383434" stroke="#383434" stroke-width="0.18" text-anchor="middle">3</text><text x="614.13" y="278.40" font-size="9.6" fill="#383434" stroke="#383434" stroke-width="0.18" text-anchor="middle">3.5</text><text x="511.70" y="291.50" font-size="9.6" fill="#383434" stroke="#383434" stroke-width="0.18" text-anchor="middle" textLength="44.5" lengthAdjust="spacingAndGlyphs">Time (min)</text><polyline points="433.50,265.30 433.83,265.23 434.16,265.14 434.50,265.04 434.83,264.91 435.16,264.74 435.49,264.55 435.83,264.31 436.16,264.03 436.49,263.69 436.82,263.29 437.16,262.81 437.49,262.25 437.82,261.60 438.15,260.85 438.48,259.99 438.82,259.00 439.15,257.88 439.48,256.62 439.81,255.21 440.15,253.64 440.48,251.90 440.81,250.00 441.14,247.93 441.48,245.69 441.81,243.29 442.14,240.73 442.47,238.03 442.81,235.20 443.14,232.27 443.47,229.24 443.80,226.16 444.13,223.05 444.47,219.94 444.80,216.88 445.13,213.88 445.46,211.01 445.80,208.28 446.13,205.75 446.46,203.44 446.79,201.40 447.13,199.65 447.46,198.22 447.79,197.13 448.12,196.41 448.45,196.05 448.79,196.05 449.12,196.27 449.45,196.69 449.78,197.31 450.12,198.12 450.45,199.11 450.78,200.28 451.11,201.62 451.45,203.10 451.78,204.71 452.11,206.45 452.44,208.29 452.78,210.22 453.11,212.23 453.44,214.28 453.77,216.38 454.10,218.51 454.44,220.64 454.77,222.77 455.10,224.88 455.43,226.97 455.77,229.02 456.10,231.01 456.43,232.95 456.76,234.83 457.10,236.64 457.43,238.38 457.76,240.04 458.09,241.62 458.42,243.12 458.76,244.54 459.09,245.89 459.42,247.15 459.75,248.34 460.09,249.46 460.42,250.50 460.75,251.48 461.08,252.40 461.42,253.25 461.75,254.04 462.08,254.79 462.41,255.48 462.75,256.12 463.08,256.73 463.41,257.29 463.74,257.81 464.07,258.31 464.41,258.76 464.74,259.19 465.07,259.60 465.40,259.98 465.74,260.33 466.07,260.66 466.40,260.98 466.73,261.27 467.07,261.55 467.40,261.81 467.73,262.06 468.06,262.29 468.39,262.51 468.73,262.72 469.06,262.92 469.39,263.10 469.72,263.27 470.06,263.44 470.39,263.59 470.72,263.73 471.05,263.87 471.39,264.00 471.72,264.12 472.05,264.23 472.38,264.33 472.72,264.43 473.05,264.52 473.38,264.61 473.71,264.69 474.04,264.76 474.38,264.83 474.71,264.90 475.04,264.96 475.37,265.01 475.71,265.06 476.04,265.11 476.37,265.16 476.70,265.20 477.04,265.23 477.37,265.27 477.70,265.30" fill="none" stroke="#d6655b" stroke-width="1.25" stroke-linejoin="round"/><polyline points="489.30,265.30 489.63,265.14 489.96,264.95 490.30,264.72 490.63,264.47 490.96,264.17 491.29,263.83 491.63,263.43 491.96,262.98 492.29,262.47 492.62,261.90 492.96,261.25 493.29,260.52 493.62,259.70 493.95,258.79 494.29,257.79 494.62,256.68 494.95,255.47 495.28,254.14 495.62,252.70 495.95,251.13 496.28,249.45 496.61,247.64 496.95,245.72 497.28,243.67 497.61,241.51 497.94,239.24 498.28,236.87 498.61,234.41 498.94,231.86 499.27,229.25 499.61,226.57 499.94,223.87 500.27,221.14 500.60,218.40 500.94,215.69 501.27,213.02 501.60,210.41 501.93,207.88 502.26,205.46 502.60,203.18 502.93,201.04 503.26,199.08 503.59,197.31 503.93,195.75 504.26,194.41 504.59,193.32 504.92,192.48 505.26,191.91 505.59,191.60 505.92,191.56 506.25,191.71 506.59,192.03 506.92,192.52 507.25,193.17 507.58,193.98 507.92,194.95 508.25,196.06 508.58,197.31 508.91,198.69 509.25,200.18 509.58,201.79 509.91,203.48 510.24,205.27 510.58,207.12 510.91,209.04 511.24,211.00 511.57,213.00 511.91,215.03 512.24,217.07 512.57,219.11 512.90,221.15 513.24,223.17 513.57,225.17 513.90,227.14 514.23,229.06 514.56,230.95 514.90,232.78 515.23,234.56 515.56,236.27 515.89,237.93 516.23,239.52 516.56,241.05 516.89,242.51 517.22,243.90 517.56,245.22 517.89,246.48 518.22,247.68 518.55,248.80 518.89,249.87 519.22,250.87 519.55,251.82 519.88,252.71 520.22,253.55 520.55,254.33 520.88,255.07 521.21,255.76 521.55,256.41 521.88,257.01 522.21,257.58 522.54,258.11 522.88,258.60 523.21,259.07 523.54,259.50 523.87,259.91 524.21,260.29 524.54,260.64 524.87,260.98 525.20,261.29 525.54,261.58 525.87,261.85 526.20,262.10 526.53,262.34 526.86,262.56 527.20,262.77 527.53,262.96 527.86,263.15 528.19,263.32 528.53,263.47 528.86,263.62 529.19,263.76 529.52,263.89 529.86,264.01 530.19,264.12 530.52,264.22 530.85,264.32 531.19,264.41 531.52,264.49 531.85,264.57 532.18,264.64 532.52,264.71 532.85,264.77 533.18,264.83 533.51,264.88 533.85,264.93 534.18,264.97 534.51,265.01 534.84,265.05 535.18,265.08 535.51,265.11 535.84,265.14 536.17,265.17 536.51,265.19 536.84,265.22 537.17,265.24 537.50,265.25 537.84,265.27 538.17,265.29 538.50,265.30" fill="none" stroke="#d6655b" stroke-width="1.25" stroke-linejoin="round"/><polyline points="536.50,265.30 536.83,265.23 537.17,265.14 537.50,265.04 537.83,264.92 538.16,264.78 538.50,264.62 538.83,264.44 539.16,264.24 539.50,264.00 539.83,263.74 540.16,263.44 540.49,263.10 540.83,262.71 541.16,262.29 541.49,261.81 541.83,261.28 542.16,260.69 542.49,260.04 542.82,259.33 543.16,258.55 543.49,257.70 543.82,256.78 544.16,255.78 544.49,254.70 544.82,253.54 545.15,252.29 545.49,250.97 545.82,249.57 546.15,248.09 546.49,246.53 546.82,244.89 547.15,243.19 547.48,241.42 547.82,239.59 548.15,237.71 548.48,235.79 548.82,233.84 549.15,231.86 549.48,229.87 549.81,227.87 550.15,225.89 550.48,223.94 550.81,222.02 551.15,220.16 551.48,218.36 551.81,216.64 552.14,215.02 552.48,213.50 552.81,212.11 553.14,210.84 553.48,209.72 553.81,208.75 554.14,207.94 554.47,207.30 554.81,206.84 555.14,206.55 555.47,206.45 555.81,206.51 556.14,206.72 556.47,207.07 556.80,207.56 557.14,208.20 557.47,208.96 557.80,209.85 558.14,210.86 558.47,211.97 558.80,213.19 559.13,214.50 559.47,215.89 559.80,217.35 560.13,218.86 560.47,220.43 560.80,222.03 561.13,223.67 561.47,225.31 561.80,226.97 562.13,228.62 562.46,230.27 562.80,231.89 563.13,233.49 563.46,235.06 563.80,236.59 564.13,238.08 564.46,239.52 564.79,240.91 565.13,242.24 565.46,243.53 565.79,244.75 566.13,245.92 566.46,247.03 566.79,248.09 567.12,249.09 567.46,250.03 567.79,250.92 568.12,251.76 568.46,252.55 568.79,253.30 569.12,253.99 569.45,254.65 569.79,255.27 570.12,255.85 570.45,256.39 570.79,256.90 571.12,257.38 571.45,257.84 571.78,258.26 572.12,258.67 572.45,259.05 572.78,259.41 573.12,259.75 573.45,260.07 573.78,260.37 574.11,260.66 574.45,260.94 574.78,261.21 575.11,261.46 575.45,261.70 575.78,261.93 576.11,262.15 576.44,262.35 576.78,262.56 577.11,262.75 577.44,262.93 577.78,263.11 578.11,263.28 578.44,263.44 578.77,263.59 579.11,263.74 579.44,263.88 579.77,264.02 580.11,264.15 580.44,264.27 580.77,264.39 581.10,264.50 581.44,264.61 581.77,264.71 582.10,264.81 582.44,264.90 582.77,264.99 583.10,265.07 583.43,265.15 583.77,265.23 584.10,265.30" fill="none" stroke="#d6655b" stroke-width="1.25" stroke-linejoin="round"/><text x="448.3" y="193.7" font-size="9.6" fill="#383434" stroke="#383434" stroke-width="0.18" text-anchor="middle">1.92</text><text x="501.6" y="193.7" font-size="9.6" fill="#383434" stroke="#383434" stroke-width="0.18" text-anchor="middle">2.47</text><text x="555.4" y="199.4" font-size="9.6" fill="#383434" stroke="#383434" stroke-width="0.18" text-anchor="middle">2.94</text><text x="453.8" y="180.2" font-size="18.0" fill="#141414" stroke="#141414" stroke-width="0.5" textLength="88.5" lengthAdjust="spacingAndGlyphs"><tspan font-weight="bold" stroke-width="0.2">3-</tspan>甲基苯胺</text></g>
<g font-family='"Liberation Sans", sans-serif'><text x="666.2" y="160.0" font-size="9.6" fill="#383434" stroke="#383434" stroke-width="0.18" textLength="313.9" lengthAdjust="spacingAndGlyphs">EIC +MRM 108.00/91.00 (30 pairs) EV: 24 V CC: -25 V Exp &quot;Experiment...</text><text x="908.9" y="172.6" font-size="9.6" fill="#383434" stroke="#383434" stroke-width="0.18" textLength="76.9" lengthAdjust="spacingAndGlyphs">Max: 3.03E+4 cps</text><text x="0" y="0" transform="translate(674.3,221.5) rotate(-90)" font-size="9.6" fill="#383434" stroke="#383434" stroke-width="0.18" text-anchor="middle" textLength="90" lengthAdjust="spacingAndGlyphs">Relative Intensity (%)</text><path d="M698.5,187.4 L698.5,265.3 L982.6,265.3" fill="none" stroke="#4a4542" stroke-width="1.5"/><path d="M698.0,187.4 L702.4,190.8 L698.0,194.20000000000002 Z" fill="#151515"/><line x1="698.5" y1="257.85" x2="700.7" y2="257.85" stroke="#4a4542" stroke-width="1.2"/><line x1="698.5" y1="250.40" x2="700.7" y2="250.40" stroke="#4a4542" stroke-width="1.2"/><line x1="698.5" y1="242.95" x2="700.7" y2="242.95" stroke="#4a4542" stroke-width="1.2"/><line x1="698.5" y1="235.50" x2="700.7" y2="235.50" stroke="#4a4542" stroke-width="1.2"/><line x1="698.5" y1="228.05" x2="702.9" y2="228.05" stroke="#4a4542" stroke-width="1.2"/><line x1="698.5" y1="220.60" x2="700.7" y2="220.60" stroke="#4a4542" stroke-width="1.2"/><line x1="698.5" y1="213.15" x2="700.7" y2="213.15" stroke="#4a4542" stroke-width="1.2"/><line x1="698.5" y1="205.70" x2="700.7" y2="205.70" stroke="#4a4542" stroke-width="1.2"/><line x1="698.5" y1="198.25" x2="700.7" y2="198.25" stroke="#4a4542" stroke-width="1.2"/><line x1="698.5" y1="190.80" x2="702.9" y2="190.80" stroke="#4a4542" stroke-width="1.2"/><text x="694.1" y="193.90" font-size="9.6" fill="#383434" stroke="#383434" stroke-width="0.18" text-anchor="end">100</text><text x="694.1" y="231.15" font-size="9.6" fill="#383434" stroke="#383434" stroke-width="0.18" text-anchor="end">50</text><text x="694.1" y="268.40" font-size="9.6" fill="#383434" stroke="#383434" stroke-width="0.18" text-anchor="end">0</text><line x1="708.45" y1="265.3" x2="708.45" y2="263.1" stroke="#4a4542" stroke-width="1.2"/><line x1="718.82" y1="265.3" x2="718.82" y2="263.1" stroke="#4a4542" stroke-width="1.2"/><line x1="729.19" y1="265.3" x2="729.19" y2="260.7" stroke="#4a4542" stroke-width="1.2"/><line x1="739.56" y1="265.3" x2="739.56" y2="263.1" stroke="#4a4542" stroke-width="1.2"/><line x1="749.93" y1="265.3" x2="749.93" y2="263.1" stroke="#4a4542" stroke-width="1.2"/><line x1="760.30" y1="265.3" x2="760.30" y2="263.1" stroke="#4a4542" stroke-width="1.2"/><line x1="770.67" y1="265.3" x2="770.67" y2="263.1" stroke="#4a4542" stroke-width="1.2"/><line x1="781.03" y1="265.3" x2="781.03" y2="260.7" stroke="#4a4542" stroke-width="1.2"/><line x1="791.40" y1="265.3" x2="791.40" y2="263.1" stroke="#4a4542" stroke-width="1.2"/><line x1="801.77" y1="265.3" x2="801.77" y2="263.1" stroke="#4a4542" stroke-width="1.2"/><line x1="812.14" y1="265.3" x2="812.14" y2="263.1" stroke="#4a4542" stroke-width="1.2"/><line x1="822.51" y1="265.3" x2="822.51" y2="263.1" stroke="#4a4542" stroke-width="1.2"/><line x1="832.88" y1="265.3" x2="832.88" y2="260.7" stroke="#4a4542" stroke-width="1.2"/><line x1="843.25" y1="265.3" x2="843.25" y2="263.1" stroke="#4a4542" stroke-width="1.2"/><line x1="853.61" y1="265.3" x2="853.61" y2="263.1" stroke="#4a4542" stroke-width="1.2"/><line x1="863.98" y1="265.3" x2="863.98" y2="263.1" stroke="#4a4542" stroke-width="1.2"/><line x1="874.35" y1="265.3" x2="874.35" y2="263.1" stroke="#4a4542" stroke-width="1.2"/><line x1="884.72" y1="265.3" x2="884.72" y2="260.7" stroke="#4a4542" stroke-width="1.2"/><line x1="895.09" y1="265.3" x2="895.09" y2="263.1" stroke="#4a4542" stroke-width="1.2"/><line x1="905.46" y1="265.3" x2="905.46" y2="263.1" stroke="#4a4542" stroke-width="1.2"/><line x1="915.83" y1="265.3" x2="915.83" y2="263.1" stroke="#4a4542" stroke-width="1.2"/><line x1="926.19" y1="265.3" x2="926.19" y2="263.1" stroke="#4a4542" stroke-width="1.2"/><line x1="936.56" y1="265.3" x2="936.56" y2="260.7" stroke="#4a4542" stroke-width="1.2"/><line x1="946.93" y1="265.3" x2="946.93" y2="263.1" stroke="#4a4542" stroke-width="1.2"/><line x1="957.30" y1="265.3" x2="957.30" y2="263.1" stroke="#4a4542" stroke-width="1.2"/><line x1="967.67" y1="265.3" x2="967.67" y2="263.1" stroke="#4a4542" stroke-width="1.2"/><line x1="978.04" y1="265.3" x2="978.04" y2="263.1" stroke="#4a4542" stroke-width="1.2"/><text x="729.19" y="278.40" font-size="9.6" fill="#383434" stroke="#383434" stroke-width="0.18" text-anchor="middle">1.5</text><text x="781.03" y="278.40" font-size="9.6" fill="#383434" stroke="#383434" stroke-width="0.18" text-anchor="middle">2</text><text x="832.88" y="278.40" font-size="9.6" fill="#383434" stroke="#383434" stroke-width="0.18" text-anchor="middle">2.5</text><text x="884.72" y="278.40" font-size="9.6" fill="#383434" stroke="#383434" stroke-width="0.18" text-anchor="middle">3</text><text x="936.56" y="278.40" font-size="9.6" fill="#383434" stroke="#383434" stroke-width="0.18" text-anchor="middle">3.5</text><text x="840.55" y="291.50" font-size="9.6" fill="#383434" stroke="#383434" stroke-width="0.18" text-anchor="middle" textLength="44.5" lengthAdjust="spacingAndGlyphs">Time (min)</text><polyline points="756.30,265.30 756.63,265.27 756.97,265.22 757.30,265.17 757.63,265.11 757.97,265.03 758.30,264.93 758.63,264.82 758.96,264.68 759.30,264.52 759.63,264.33 759.96,264.10 760.30,263.84 760.63,263.52 760.96,263.16 761.30,262.74 761.63,262.25 761.96,261.70 762.30,261.06 762.63,260.34 762.96,259.52 763.29,258.60 763.63,257.58 763.96,256.43 764.29,255.17 764.63,253.77 764.96,252.25 765.29,250.58 765.63,248.78 765.96,246.84 766.29,244.76 766.62,242.55 766.96,240.21 767.29,237.75 767.62,235.17 767.96,232.50 768.29,229.74 768.62,226.92 768.96,224.05 769.29,221.16 769.62,218.27 769.96,215.40 770.29,212.58 770.62,209.84 770.95,207.21 771.29,204.72 771.62,202.38 771.95,200.24 772.29,198.31 772.62,196.61 772.95,195.17 773.29,194.01 773.62,193.14 773.95,192.57 774.29,192.31 774.62,192.35 774.95,192.69 775.28,193.32 775.62,194.23 775.95,195.41 776.28,196.84 776.62,198.49 776.95,200.36 777.28,202.41 777.62,204.61 777.95,206.95 778.28,209.39 778.62,211.90 778.95,214.46 779.28,217.04 779.61,219.62 779.95,222.18 780.28,224.69 780.61,227.14 780.95,229.52 781.28,231.80 781.61,233.99 781.95,236.08 782.28,238.05 782.61,239.91 782.95,241.66 783.28,243.29 783.61,244.81 783.94,246.23 784.28,247.54 784.61,248.76 784.94,249.89 785.28,250.93 785.61,251.89 785.94,252.78 786.28,253.61 786.61,254.38 786.94,255.09 787.27,255.75 787.61,256.37 787.94,256.95 788.27,257.49 788.61,258.00 788.94,258.49 789.27,258.94 789.61,259.37 789.94,259.78 790.27,260.17 790.61,260.55 790.94,260.90 791.27,261.24 791.60,261.56 791.94,261.86 792.27,262.16 792.60,262.44 792.94,262.70 793.27,262.96 793.60,263.20 793.94,263.43 794.27,263.65 794.60,263.86 794.94,264.06 795.27,264.25 795.60,264.42 795.93,264.59 796.27,264.75 796.60,264.90 796.93,265.04 797.27,265.17 797.60,265.30" fill="none" stroke="#d6655b" stroke-width="1.25" stroke-linejoin="round"/><polyline points="810.70,265.30 811.03,265.25 811.36,265.19 811.70,265.11 812.03,265.03 812.36,264.93 812.69,264.80 813.02,264.66 813.36,264.50 813.69,264.30 814.02,264.08 814.35,263.82 814.68,263.52 815.02,263.18 815.35,262.79 815.68,262.34 816.01,261.84 816.34,261.27 816.68,260.63 817.01,259.92 817.34,259.12 817.67,258.24 818.00,257.26 818.34,256.19 818.67,255.01 819.00,253.73 819.33,252.33 819.66,250.83 820.00,249.21 820.33,247.47 820.66,245.63 820.99,243.66 821.32,241.60 821.66,239.42 821.99,237.15 822.32,234.79 822.65,232.35 822.98,229.84 823.32,227.28 823.65,224.68 823.98,222.05 824.31,219.42 824.65,216.80 824.98,214.21 825.31,211.67 825.64,209.21 825.97,206.84 826.31,204.58 826.64,202.46 826.97,200.50 827.30,198.71 827.63,197.11 827.97,195.72 828.30,194.55 828.63,193.62 828.96,192.92 829.29,192.48 829.63,192.30 829.96,192.35 830.29,192.58 830.62,192.99 830.95,193.59 831.29,194.35 831.62,195.28 831.95,196.37 832.28,197.60 832.61,198.97 832.95,200.47 833.28,202.09 833.61,203.81 833.94,205.61 834.27,207.49 834.61,209.44 834.94,211.43 835.27,213.46 835.60,215.51 835.93,217.57 836.27,219.63 836.60,221.68 836.93,223.70 837.26,225.70 837.59,227.65 837.93,229.56 838.26,231.42 838.59,233.21 838.92,234.95 839.25,236.61 839.59,238.21 839.92,239.74 840.25,241.19 840.58,242.58 840.91,243.89 841.25,245.13 841.58,246.30 841.91,247.40 842.24,248.44 842.57,249.42 842.91,250.34 843.24,251.20 843.57,252.00 843.90,252.76 844.23,253.47 844.57,254.13 844.90,254.75 845.23,255.34 845.56,255.88 845.89,256.40 846.23,256.88 846.56,257.34 846.89,257.77 847.22,258.17 847.55,258.56 847.89,258.92 848.22,259.26 848.55,259.59 848.88,259.90 849.22,260.20 849.55,260.48 849.88,260.75 850.21,261.01 850.54,261.25 850.88,261.49 851.21,261.71 851.54,261.92 851.87,262.13 852.20,262.33 852.54,262.51 852.87,262.69 853.20,262.87 853.53,263.03 853.86,263.19 854.20,263.34 854.53,263.48 854.86,263.62 855.19,263.75 855.52,263.88 855.86,264.00 856.19,264.11 856.52,264.22 856.85,264.32 857.18,264.42 857.52,264.51 857.85,264.60 858.18,264.68 858.51,264.76 858.84,264.84 859.18,264.91 859.51,264.97 859.84,265.04 860.17,265.10 860.50,265.15 860.84,265.20 861.17,265.25 861.50,265.30" fill="none" stroke="#d6655b" stroke-width="1.25" stroke-linejoin="round"/><polyline points="861.50,265.30 861.83,265.14 862.16,264.95 862.50,264.74 862.83,264.49 863.16,264.21 863.49,263.89 863.82,263.52 864.16,263.10 864.49,262.63 864.82,262.10 865.15,261.51 865.48,260.85 865.82,260.12 866.15,259.31 866.48,258.41 866.81,257.43 867.14,256.37 867.48,255.20 867.81,253.94 868.14,252.59 868.47,251.13 868.80,249.58 869.14,247.93 869.47,246.18 869.80,244.34 870.13,242.42 870.46,240.41 870.80,238.33 871.13,236.19 871.46,233.99 871.79,231.75 872.12,229.48 872.46,227.19 872.79,224.91 873.12,222.64 873.45,220.40 873.78,218.22 874.12,216.11 874.45,214.08 874.78,212.16 875.11,210.36 875.44,208.69 875.78,207.18 876.11,205.85 876.44,204.69 876.77,203.73 877.10,202.97 877.44,202.42 877.77,202.09 878.10,201.98 878.43,202.04 878.76,202.23 879.09,202.55 879.43,203.00 879.76,203.56 880.09,204.24 880.42,205.04 880.75,205.94 881.09,206.94 881.42,208.04 881.75,209.22 882.08,210.49 882.41,211.82 882.75,213.21 883.08,214.66 883.41,216.16 883.74,217.69 884.07,219.25 884.41,220.83 884.74,222.42 885.07,224.02 885.40,225.61 885.73,227.20 886.07,228.77 886.40,230.32 886.73,231.84 887.06,233.33 887.39,234.79 887.73,236.21 888.06,237.59 888.39,238.92 888.72,240.21 889.05,241.45 889.39,242.64 889.72,243.78 890.05,244.88 890.38,245.92 890.71,246.92 891.05,247.87 891.38,248.77 891.71,249.63 892.04,250.45 892.37,251.22 892.71,251.95 893.04,252.64 893.37,253.30 893.70,253.92 894.03,254.50 894.37,255.06 894.70,255.59 895.03,256.08 895.36,256.55 895.69,257.00 896.03,257.42 896.36,257.82 896.69,258.20 897.02,258.57 897.35,258.91 897.69,259.24 898.02,259.55 898.35,259.84 898.68,260.12 899.01,260.39 899.35,260.64 899.68,260.89 900.01,261.12 900.34,261.34 900.67,261.55 901.01,261.75 901.34,261.95 901.67,262.13 902.00,262.30 902.33,262.47 902.67,262.63 903.00,262.78 903.33,262.93 903.66,263.06 903.99,263.19 904.33,263.32 904.66,263.44 904.99,263.55 905.32,263.66 905.65,263.76 905.99,263.86 906.32,263.95 906.65,264.03 906.98,264.11 907.31,264.19 907.65,264.27 907.98,264.33 908.31,264.40 908.64,264.46 908.97,264.52 909.31,264.57 909.64,264.62 909.97,264.67 910.30,264.72 910.63,264.76 910.96,264.80 911.30,264.84 911.63,264.87 911.96,264.90 912.29,264.93 912.62,264.96 912.96,264.99 913.29,265.01 913.62,265.04 913.95,265.06 914.28,265.08 914.62,265.10 914.95,265.11 915.28,265.13 915.61,265.14 915.94,265.16 916.28,265.17 916.61,265.18 916.94,265.19 917.27,265.20 917.60,265.21 917.94,265.22 918.27,265.23 918.60,265.23 918.93,265.24 919.26,265.25 919.60,265.25 919.93,265.26 920.26,265.26 920.59,265.26 920.92,265.27 921.26,265.27 921.59,265.28 921.92,265.28 922.25,265.28 922.58,265.28 922.92,265.29 923.25,265.29 923.58,265.29 923.91,265.29 924.24,265.29 924.58,265.29 924.91,265.29 925.24,265.30 925.57,265.30 925.90,265.30 926.24,265.30 926.57,265.30 926.90,265.30" fill="none" stroke="#d6655b" stroke-width="1.25" stroke-linejoin="round"/><text x="773.4" y="193.6" font-size="9.6" fill="#383434" stroke="#383434" stroke-width="0.18" text-anchor="middle">1.93</text><text x="825.5" y="193.6" font-size="9.6" fill="#383434" stroke="#383434" stroke-width="0.18" text-anchor="middle">2.47</text><text x="878.4" y="197.8" font-size="9.6" fill="#383434" stroke="#383434" stroke-width="0.18" text-anchor="middle">2.93</text><text x="894.9" y="205.7" font-size="18.0" fill="#141414" stroke="#141414" stroke-width="0.5" textLength="88.5" lengthAdjust="spacingAndGlyphs"><tspan font-weight="bold" stroke-width="0.2">2-</tspan>甲基苯胺</text></g>
<g font-family='"Liberation Sans", sans-serif'><text x="7.0" y="305.1" font-size="9.6" fill="#383434" stroke="#383434" stroke-width="0.18" textLength="314.6" lengthAdjust="spacingAndGlyphs">EIC +MRM 122.00/107.00 (30 pairs) EV: 3 V CC: -22 V Exp &quot;Experiment...</text><text x="250.3" y="317.6" font-size="9.6" fill="#383434" stroke="#383434" stroke-width="0.18" textLength="77.4" lengthAdjust="spacingAndGlyphs">Max: 4.96E+4 cps</text><text x="0" y="0" transform="translate(14.3,366.5) rotate(-90)" font-size="9.6" fill="#383434" stroke="#383434" stroke-width="0.18" text-anchor="middle" textLength="90" lengthAdjust="spacingAndGlyphs">Relative Intensity (%)</text><path d="M39.3,332.40000000000003 L39.3,410.4 L323.9,410.4" fill="none" stroke="#4a4542" stroke-width="1.5"/><path d="M38.8,332.40000000000003 L43.199999999999996,335.8 L38.8,339.2 Z" fill="#151515"/><line x1="39.3" y1="402.94" x2="41.5" y2="402.94" stroke="#4a4542" stroke-width="1.2"/><line x1="39.3" y1="395.48" x2="41.5" y2="395.48" stroke="#4a4542" stroke-width="1.2"/><line x1="39.3" y1="388.02" x2="41.5" y2="388.02" stroke="#4a4542" stroke-width="1.2"/><line x1="39.3" y1="380.56" x2="41.5" y2="380.56" stroke="#4a4542" stroke-width="1.2"/><line x1="39.3" y1="373.10" x2="43.699999999999996" y2="373.10" stroke="#4a4542" stroke-width="1.2"/><line x1="39.3" y1="365.64" x2="41.5" y2="365.64" stroke="#4a4542" stroke-width="1.2"/><line x1="39.3" y1="358.18" x2="41.5" y2="358.18" stroke="#4a4542" stroke-width="1.2"/><line x1="39.3" y1="350.72" x2="41.5" y2="350.72" stroke="#4a4542" stroke-width="1.2"/><line x1="39.3" y1="343.26" x2="41.5" y2="343.26" stroke="#4a4542" stroke-width="1.2"/><line x1="39.3" y1="335.80" x2="43.699999999999996" y2="335.80" stroke="#4a4542" stroke-width="1.2"/><text x="34.9" y="338.90" font-size="9.6" fill="#383434" stroke="#383434" stroke-width="0.18" text-anchor="end">100</text><text x="34.9" y="376.20" font-size="9.6" fill="#383434" stroke="#383434" stroke-width="0.18" text-anchor="end">50</text><text x="34.9" y="413.50" font-size="9.6" fill="#383434" stroke="#383434" stroke-width="0.18" text-anchor="end">0</text><line x1="40.82" y1="410.4" x2="40.82" y2="408.2" stroke="#4a4542" stroke-width="1.2"/><line x1="54.68" y1="410.4" x2="54.68" y2="408.2" stroke="#4a4542" stroke-width="1.2"/><line x1="68.54" y1="410.4" x2="68.54" y2="408.2" stroke="#4a4542" stroke-width="1.2"/><line x1="82.39" y1="410.4" x2="82.39" y2="408.2" stroke="#4a4542" stroke-width="1.2"/><line x1="96.25" y1="410.4" x2="96.25" y2="405.79999999999995" stroke="#4a4542" stroke-width="1.2"/><line x1="110.10" y1="410.4" x2="110.10" y2="408.2" stroke="#4a4542" stroke-width="1.2"/><line x1="123.96" y1="410.4" x2="123.96" y2="408.2" stroke="#4a4542" stroke-width="1.2"/><line x1="137.82" y1="410.4" x2="137.82" y2="408.2" stroke="#4a4542" stroke-width="1.2"/><line x1="151.67" y1="410.4" x2="151.67" y2="408.2" stroke="#4a4542" stroke-width="1.2"/><line x1="165.53" y1="410.4" x2="165.53" y2="405.79999999999995" stroke="#4a4542" stroke-width="1.2"/><line x1="179.38" y1="410.4" x2="179.38" y2="408.2" stroke="#4a4542" stroke-width="1.2"/><line x1="193.24" y1="410.4" x2="193.24" y2="408.2" stroke="#4a4542" stroke-width="1.2"/><line x1="207.09" y1="410.4" x2="207.09" y2="408.2" stroke="#4a4542" stroke-width="1.2"/><line x1="220.95" y1="410.4" x2="220.95" y2="408.2" stroke="#4a4542" stroke-width="1.2"/><line x1="234.81" y1="410.4" x2="234.81" y2="405.79999999999995" stroke="#4a4542" stroke-width="1.2"/><line x1="248.66" y1="410.4" x2="248.66" y2="408.2" stroke="#4a4542" stroke-width="1.2"/><line x1="262.52" y1="410.4" x2="262.52" y2="408.2" stroke="#4a4542" stroke-width="1.2"/><line x1="276.37" y1="410.4" x2="276.37" y2="408.2" stroke="#4a4542" stroke-width="1.2"/><line x1="290.23" y1="410.4" x2="290.23" y2="408.2" stroke="#4a4542" stroke-width="1.2"/><line x1="304.09" y1="410.4" x2="304.09" y2="405.79999999999995" stroke="#4a4542" stroke-width="1.2"/><line x1="317.94" y1="410.4" x2="317.94" y2="408.2" stroke="#4a4542" stroke-width="1.2"/><text x="96.25" y="423.50" font-size="9.6" fill="#383434" stroke="#383434" stroke-width="0.18" text-anchor="middle">3.5</text><text x="165.53" y="423.50" font-size="9.6" fill="#383434" stroke="#383434" stroke-width="0.18" text-anchor="middle">4</text><text x="234.81" y="423.50" font-size="9.6" fill="#383434" stroke="#383434" stroke-width="0.18" text-anchor="middle">4.5</text><text x="304.09" y="423.50" font-size="9.6" fill="#383434" stroke="#383434" stroke-width="0.18" text-anchor="middle">5</text><text x="181.60" y="436.60" font-size="9.6" fill="#383434" stroke="#383434" stroke-width="0.18" text-anchor="middle" textLength="44.5" lengthAdjust="spacingAndGlyphs">Time (min)</text><polyline points="168.90,410.40 169.23,409.95 169.56,409.45 169.89,408.88 170.23,408.25 170.56,407.55 170.89,406.76 171.22,405.90 171.55,404.94 171.88,403.90 172.21,402.76 172.55,401.51 172.88,400.16 173.21,398.71 173.54,397.14 173.87,395.46 174.20,393.68 174.53,391.78 174.87,389.78 175.20,387.67 175.53,385.46 175.86,383.15 176.19,380.77 176.52,378.30 176.85,375.77 177.19,373.18 177.52,370.56 177.85,367.91 178.18,365.24 178.51,362.59 178.84,359.96 179.17,357.37 179.51,354.85 179.84,352.40 180.17,350.06 180.50,347.84 180.83,345.76 181.16,343.83 181.49,342.08 181.83,340.52 182.16,339.16 182.49,338.02 182.82,337.11 183.15,336.43 183.48,336.00 183.82,335.81 184.15,335.85 184.48,336.07 184.81,336.47 185.14,337.05 185.47,337.79 185.80,338.70 186.14,339.77 186.47,340.98 186.80,342.34 187.13,343.83 187.46,345.44 187.79,347.17 188.12,348.99 188.46,350.90 188.79,352.88 189.12,354.93 189.45,357.02 189.78,359.16 190.11,361.32 190.44,363.49 190.78,365.67 191.11,367.84 191.44,370.00 191.77,372.12 192.10,374.22 192.43,376.27 192.76,378.26 193.10,380.20 193.43,382.08 193.76,383.90 194.09,385.64 194.42,387.31 194.75,388.90 195.08,390.41 195.42,391.85 195.75,393.21 196.08,394.49 196.41,395.69 196.74,396.82 197.07,397.87 197.40,398.86 197.74,399.77 198.07,400.61 198.40,401.40 198.73,402.12 199.06,402.78 199.39,403.39 199.72,403.95 200.06,404.46 200.39,404.93 200.72,405.36 201.05,405.74 201.38,406.10 201.71,406.42 202.04,406.71 202.38,406.97 202.71,407.21 203.04,407.43 203.37,407.63 203.70,407.81 204.03,407.97 204.36,408.12 204.70,408.26 205.03,408.38 205.36,408.50 205.69,408.60 206.02,408.70 206.35,408.79 206.68,408.87 207.02,408.95 207.35,409.02 207.68,409.08 208.01,409.15 208.34,409.21 208.67,409.26 209.01,409.32 209.34,409.37 209.67,409.42 210.00,409.46 210.33,409.51 210.66,409.55 210.99,409.59 211.33,409.63 211.66,409.67 211.99,409.71 212.32,409.75 212.65,409.78 212.98,409.81 213.31,409.85 213.65,409.88 213.98,409.91 214.31,409.94 214.64,409.97 214.97,410.00 215.30,410.02 215.63,410.05 215.97,410.08 216.30,410.10 216.63,410.12 216.96,410.15 217.29,410.17 217.62,410.19 217.95,410.21 218.29,410.23 218.62,410.25 218.95,410.27 219.28,410.29 219.61,410.31 219.94,410.32 220.27,410.34 220.61,410.36 220.94,410.37 221.27,410.39 221.60,410.40" fill="none" stroke="#d6655b" stroke-width="1.25" stroke-linejoin="round"/><text x="182.4" y="338.9" font-size="9.6" fill="#383434" stroke="#383434" stroke-width="0.18" text-anchor="middle">4.13</text><text x="52.2" y="365.1" font-size="18.0" fill="#141414" stroke="#141414" stroke-width="0.5" textLength="121.9" lengthAdjust="spacingAndGlyphs"><tspan font-weight="bold" stroke-width="0.2">2,4-</tspan>二甲基苯胺</text></g>
<g font-family='"Liberation Sans", sans-serif'><text x="336.6" y="304.9" font-size="9.6" fill="#383434" stroke="#383434" stroke-width="0.18" textLength="320.0" lengthAdjust="spacingAndGlyphs">EIC +MRM 139.00/122.00 (30 pairs) EV: 24 V CC: -19 V Exp &quot;Experiment...</text><text x="579.3" y="317.6" font-size="9.6" fill="#383434" stroke="#383434" stroke-width="0.18" textLength="77.9" lengthAdjust="spacingAndGlyphs">Max: 1.92E+5 cps</text><text x="0" y="0" transform="translate(344.3,366.5) rotate(-90)" font-size="9.6" fill="#383434" stroke="#383434" stroke-width="0.18" text-anchor="middle" textLength="90" lengthAdjust="spacingAndGlyphs">Relative Intensity (%)</text><path d="M369.1,332.40000000000003 L369.1,410.4 L653.6,410.4" fill="none" stroke="#4a4542" stroke-width="1.5"/><path d="M368.6,332.40000000000003 L373.0,335.8 L368.6,339.2 Z" fill="#151515"/><line x1="369.1" y1="402.94" x2="371.3" y2="402.94" stroke="#4a4542" stroke-width="1.2"/><line x1="369.1" y1="395.48" x2="371.3" y2="395.48" stroke="#4a4542" stroke-width="1.2"/><line x1="369.1" y1="388.02" x2="371.3" y2="388.02" stroke="#4a4542" stroke-width="1.2"/><line x1="369.1" y1="380.56" x2="371.3" y2="380.56" stroke="#4a4542" stroke-width="1.2"/><line x1="369.1" y1="373.10" x2="373.5" y2="373.10" stroke="#4a4542" stroke-width="1.2"/><line x1="369.1" y1="365.64" x2="371.3" y2="365.64" stroke="#4a4542" stroke-width="1.2"/><line x1="369.1" y1="358.18" x2="371.3" y2="358.18" stroke="#4a4542" stroke-width="1.2"/><line x1="369.1" y1="350.72" x2="371.3" y2="350.72" stroke="#4a4542" stroke-width="1.2"/><line x1="369.1" y1="343.26" x2="371.3" y2="343.26" stroke="#4a4542" stroke-width="1.2"/><line x1="369.1" y1="335.80" x2="373.5" y2="335.80" stroke="#4a4542" stroke-width="1.2"/><text x="364.70000000000005" y="338.90" font-size="9.6" fill="#383434" stroke="#383434" stroke-width="0.18" text-anchor="end">100</text><text x="364.70000000000005" y="376.20" font-size="9.6" fill="#383434" stroke="#383434" stroke-width="0.18" text-anchor="end">50</text><text x="364.70000000000005" y="413.50" font-size="9.6" fill="#383434" stroke="#383434" stroke-width="0.18" text-anchor="end">0</text><line x1="378.43" y1="410.4" x2="378.43" y2="408.2" stroke="#4a4542" stroke-width="1.2"/><line x1="392.80" y1="410.4" x2="392.80" y2="408.2" stroke="#4a4542" stroke-width="1.2"/><line x1="407.16" y1="410.4" x2="407.16" y2="408.2" stroke="#4a4542" stroke-width="1.2"/><line x1="421.52" y1="410.4" x2="421.52" y2="405.79999999999995" stroke="#4a4542" stroke-width="1.2"/><line x1="435.88" y1="410.4" x2="435.88" y2="408.2" stroke="#4a4542" stroke-width="1.2"/><line x1="450.24" y1="410.4" x2="450.24" y2="408.2" stroke="#4a4542" stroke-width="1.2"/><line x1="464.60" y1="410.4" x2="464.60" y2="408.2" stroke="#4a4542" stroke-width="1.2"/><line x1="478.96" y1="410.4" x2="478.96" y2="408.2" stroke="#4a4542" stroke-width="1.2"/><line x1="493.33" y1="410.4" x2="493.33" y2="405.79999999999995" stroke="#4a4542" stroke-width="1.2"/><line x1="507.69" y1="410.4" x2="507.69" y2="408.2" stroke="#4a4542" stroke-width="1.2"/><line x1="522.05" y1="410.4" x2="522.05" y2="408.2" stroke="#4a4542" stroke-width="1.2"/><line x1="536.41" y1="410.4" x2="536.41" y2="408.2" stroke="#4a4542" stroke-width="1.2"/><line x1="550.77" y1="410.4" x2="550.77" y2="408.2" stroke="#4a4542" stroke-width="1.2"/><line x1="565.13" y1="410.4" x2="565.13" y2="405.79999999999995" stroke="#4a4542" stroke-width="1.2"/><line x1="579.50" y1="410.4" x2="579.50" y2="408.2" stroke="#4a4542" stroke-width="1.2"/><line x1="593.86" y1="410.4" x2="593.86" y2="408.2" stroke="#4a4542" stroke-width="1.2"/><line x1="608.22" y1="410.4" x2="608.22" y2="408.2" stroke="#4a4542" stroke-width="1.2"/><line x1="622.58" y1="410.4" x2="622.58" y2="408.2" stroke="#4a4542" stroke-width="1.2"/><line x1="636.94" y1="410.4" x2="636.94" y2="405.79999999999995" stroke="#4a4542" stroke-width="1.2"/><line x1="651.30" y1="410.4" x2="651.30" y2="408.2" stroke="#4a4542" stroke-width="1.2"/><text x="421.52" y="423.50" font-size="9.6" fill="#383434" stroke="#383434" stroke-width="0.18" text-anchor="middle">5</text><text x="493.33" y="423.50" font-size="9.6" fill="#383434" stroke="#383434" stroke-width="0.18" text-anchor="middle">5.5</text><text x="565.13" y="423.50" font-size="9.6" fill="#383434" stroke="#383434" stroke-width="0.18" text-anchor="middle">6</text><text x="636.94" y="423.50" font-size="9.6" fill="#383434" stroke="#383434" stroke-width="0.18" text-anchor="middle">6.5</text><text x="511.35" y="436.60" font-size="9.6" fill="#383434" stroke="#383434" stroke-width="0.18" text-anchor="middle" textLength="44.5" lengthAdjust="spacingAndGlyphs">Time (min)</text><polyline points="498.40,410.40 498.73,410.06 499.06,409.65 499.39,409.15 499.73,408.57 500.06,407.88 500.39,407.07 500.72,406.13 501.05,405.04 501.38,403.80 501.72,402.39 502.05,400.79 502.38,399.01 502.71,397.02 503.04,394.83 503.37,392.43 503.71,389.83 504.04,387.03 504.37,384.05 504.70,380.89 505.03,377.58 505.36,374.15 505.69,370.63 506.03,367.05 506.36,363.45 506.69,359.89 507.02,356.40 507.35,353.03 507.68,349.84 508.02,346.87 508.35,344.17 508.68,341.78 509.01,339.76 509.34,338.12 509.67,336.90 510.01,336.13 510.34,335.81 510.67,335.91 511.00,336.37 511.33,337.16 511.66,338.27 511.99,339.70 512.33,341.42 512.66,343.41 512.99,345.64 513.32,348.07 513.65,350.69 513.98,353.45 514.32,356.33 514.65,359.29 514.98,362.30 515.31,365.32 515.64,368.34 515.97,371.31 516.31,374.23 516.64,377.06 516.97,379.79 517.30,382.40 517.63,384.89 517.96,387.24 518.29,389.44 518.63,391.49 518.96,393.40 519.29,395.15 519.62,396.76 519.95,398.23 520.28,399.57 520.62,400.78 520.95,401.86 521.28,402.83 521.61,403.70 521.94,404.48 522.27,405.16 522.61,405.77 522.94,406.30 523.27,406.77 523.60,407.19 523.93,407.55 524.26,407.87 524.59,408.15 524.93,408.40 525.26,408.62 525.59,408.81 525.92,408.98 526.25,409.13 526.58,409.26 526.92,409.38 527.25,409.48 527.58,409.57 527.91,409.66 528.24,409.73 528.57,409.80 528.91,409.86 529.24,409.91 529.57,409.96 529.90,410.01 530.23,410.05 530.56,410.08 530.89,410.12 531.23,410.15 531.56,410.17 531.89,410.20 532.22,410.22 532.55,410.24 532.88,410.26 533.22,410.27 533.55,410.29 533.88,410.30 534.21,410.31 534.54,410.32 534.87,410.33 535.21,410.34 535.54,410.35 535.87,410.36 536.20,410.36 536.53,410.37 536.86,410.37 537.19,410.38 537.53,410.38 537.86,410.38 538.19,410.38 538.52,410.39 538.85,410.39 539.18,410.39 539.52,410.39 539.85,410.39 540.18,410.40 540.51,410.40 540.84,410.40 541.17,410.40 541.51,410.40 541.84,410.40 542.17,410.40 542.50,410.40" fill="none" stroke="#d6655b" stroke-width="1.25" stroke-linejoin="round"/><text x="509.9" y="338.9" font-size="9.6" fill="#383434" stroke="#383434" stroke-width="0.18" text-anchor="middle">5.62</text><text x="408.3" y="366.8" font-size="18.0" fill="#141414" stroke="#141414" stroke-width="0.5" textLength="88.4" lengthAdjust="spacingAndGlyphs"><tspan font-weight="bold" stroke-width="0.2">4-</tspan>硝基苯胺</text></g>
<g font-family='"Liberation Sans", sans-serif'><text x="666.0" y="304.9" font-size="9.6" fill="#383434" stroke="#383434" stroke-width="0.18" textLength="314.1" lengthAdjust="spacingAndGlyphs">EIC +MRM 139.00/93.00 (30 pairs) EV: 19 V CC: -23 V Exp &quot;Experiment...</text><text x="908.9" y="317.6" font-size="9.6" fill="#383434" stroke="#383434" stroke-width="0.18" textLength="77.4" lengthAdjust="spacingAndGlyphs">Max: 2.22E+4 cps</text><text x="0" y="0" transform="translate(674.3,366.5) rotate(-90)" font-size="9.6" fill="#383434" stroke="#383434" stroke-width="0.18" text-anchor="middle" textLength="90" lengthAdjust="spacingAndGlyphs">Relative Intensity (%)</text><path d="M697.9,332.40000000000003 L697.9,410.4 L982.8,410.4" fill="none" stroke="#4a4542" stroke-width="1.5"/><path d="M697.4,332.40000000000003 L701.8,335.8 L697.4,339.2 Z" fill="#151515"/><line x1="697.9" y1="402.94" x2="700.1" y2="402.94" stroke="#4a4542" stroke-width="1.2"/><line x1="697.9" y1="395.48" x2="700.1" y2="395.48" stroke="#4a4542" stroke-width="1.2"/><line x1="697.9" y1="388.02" x2="700.1" y2="388.02" stroke="#4a4542" stroke-width="1.2"/><line x1="697.9" y1="380.56" x2="700.1" y2="380.56" stroke="#4a4542" stroke-width="1.2"/><line x1="697.9" y1="373.10" x2="702.3" y2="373.10" stroke="#4a4542" stroke-width="1.2"/><line x1="697.9" y1="365.64" x2="700.1" y2="365.64" stroke="#4a4542" stroke-width="1.2"/><line x1="697.9" y1="358.18" x2="700.1" y2="358.18" stroke="#4a4542" stroke-width="1.2"/><line x1="697.9" y1="350.72" x2="700.1" y2="350.72" stroke="#4a4542" stroke-width="1.2"/><line x1="697.9" y1="343.26" x2="700.1" y2="343.26" stroke="#4a4542" stroke-width="1.2"/><line x1="697.9" y1="335.80" x2="702.3" y2="335.80" stroke="#4a4542" stroke-width="1.2"/><text x="693.5" y="338.90" font-size="9.6" fill="#383434" stroke="#383434" stroke-width="0.18" text-anchor="end">100</text><text x="693.5" y="376.20" font-size="9.6" fill="#383434" stroke="#383434" stroke-width="0.18" text-anchor="end">50</text><text x="693.5" y="413.50" font-size="9.6" fill="#383434" stroke="#383434" stroke-width="0.18" text-anchor="end">0</text><line x1="702.43" y1="410.4" x2="702.43" y2="405.79999999999995" stroke="#4a4542" stroke-width="1.2"/><line x1="718.04" y1="410.4" x2="718.04" y2="408.2" stroke="#4a4542" stroke-width="1.2"/><line x1="733.65" y1="410.4" x2="733.65" y2="408.2" stroke="#4a4542" stroke-width="1.2"/><line x1="749.26" y1="410.4" x2="749.26" y2="408.2" stroke="#4a4542" stroke-width="1.2"/><line x1="764.87" y1="410.4" x2="764.87" y2="408.2" stroke="#4a4542" stroke-width="1.2"/><line x1="780.48" y1="410.4" x2="780.48" y2="405.79999999999995" stroke="#4a4542" stroke-width="1.2"/><line x1="796.09" y1="410.4" x2="796.09" y2="408.2" stroke="#4a4542" stroke-width="1.2"/><line x1="811.70" y1="410.4" x2="811.70" y2="408.2" stroke="#4a4542" stroke-width="1.2"/><line x1="827.31" y1="410.4" x2="827.31" y2="408.2" stroke="#4a4542" stroke-width="1.2"/><line x1="842.93" y1="410.4" x2="842.93" y2="408.2" stroke="#4a4542" stroke-width="1.2"/><line x1="858.54" y1="410.4" x2="858.54" y2="405.79999999999995" stroke="#4a4542" stroke-width="1.2"/><line x1="874.15" y1="410.4" x2="874.15" y2="408.2" stroke="#4a4542" stroke-width="1.2"/><line x1="889.76" y1="410.4" x2="889.76" y2="408.2" stroke="#4a4542" stroke-width="1.2"/><line x1="905.37" y1="410.4" x2="905.37" y2="408.2" stroke="#4a4542" stroke-width="1.2"/><line x1="920.98" y1="410.4" x2="920.98" y2="408.2" stroke="#4a4542" stroke-width="1.2"/><line x1="936.59" y1="410.4" x2="936.59" y2="405.79999999999995" stroke="#4a4542" stroke-width="1.2"/><line x1="952.20" y1="410.4" x2="952.20" y2="408.2" stroke="#4a4542" stroke-width="1.2"/><line x1="967.81" y1="410.4" x2="967.81" y2="408.2" stroke="#4a4542" stroke-width="1.2"/><text x="702.43" y="423.50" font-size="9.6" fill="#383434" stroke="#383434" stroke-width="0.18" text-anchor="middle">5</text><text x="780.48" y="423.50" font-size="9.6" fill="#383434" stroke="#383434" stroke-width="0.18" text-anchor="middle">5.5</text><text x="858.54" y="423.50" font-size="9.6" fill="#383434" stroke="#383434" stroke-width="0.18" text-anchor="middle">6</text><text x="936.59" y="423.50" font-size="9.6" fill="#383434" stroke="#383434" stroke-width="0.18" text-anchor="middle">6.5</text><text x="840.35" y="436.60" font-size="9.6" fill="#383434" stroke="#383434" stroke-width="0.18" text-anchor="middle" textLength="44.5" lengthAdjust="spacingAndGlyphs">Time (min)</text><polyline points="807.20,410.40 807.53,409.61 807.87,408.83 808.20,408.04 808.53,407.57 808.86,407.57 809.20,407.57 809.53,407.57 809.86,407.57 810.19,407.57 810.53,407.57 810.86,407.57 811.19,407.57 811.52,407.57 811.86,407.57 812.19,407.57 812.52,407.57 812.86,407.57 813.19,407.16 813.52,406.61 813.85,405.97 814.19,405.26 814.52,404.45 814.85,403.55 815.18,402.55 815.52,401.43 815.85,400.21 816.18,398.86 816.51,397.39 816.85,395.78 817.18,394.05 817.51,392.19 817.85,390.20 818.18,388.08 818.51,385.83 818.84,383.47 819.18,381.00 819.51,378.43 819.84,375.77 820.17,373.03 820.51,370.25 820.84,367.42 821.17,364.58 821.50,361.74 821.84,358.93 822.17,356.18 822.50,353.50 822.84,350.92 823.17,348.48 823.50,346.18 823.83,344.07 824.17,342.15 824.50,340.46 824.83,339.00 825.16,337.80 825.50,336.88 825.83,336.23 826.16,335.88 826.49,335.81 826.83,336.06 827.16,336.61 827.49,337.46 827.83,338.60 828.16,340.01 828.49,341.68 828.82,343.58 829.16,345.70 829.49,348.01 829.82,350.48 830.15,353.08 830.49,355.78 830.82,358.56 831.15,361.40 831.48,364.25 831.82,367.11 832.15,369.94 832.48,372.72 832.82,375.44 833.15,378.07 833.48,380.61 833.81,383.03 834.15,385.34 834.48,387.53 834.81,389.58 835.14,391.49 835.48,393.28 835.81,394.93 836.14,396.45 836.47,397.84 836.81,399.11 837.14,400.26 837.47,401.30 837.81,402.24 838.14,403.09 838.47,403.84 838.80,404.52 839.14,405.12 839.47,405.65 839.80,406.13 840.13,406.55 840.47,406.92 840.80,407.25 841.13,407.54 841.46,407.80 841.80,407.86 842.13,407.86 842.46,407.86 842.80,407.86 843.13,407.86 843.46,407.86 843.79,407.86 844.13,407.86 844.46,407.86 844.79,407.86 845.12,407.86 845.46,407.86 845.79,407.86 846.12,407.86 846.45,407.86 846.79,407.86 847.12,407.86 847.45,407.86 847.79,407.86 848.12,407.86 848.45,407.86 848.78,407.86 849.12,407.86 849.45,407.86 849.78,407.86 850.11,407.86 850.45,407.86 850.78,407.86 851.11,407.86 851.44,407.86 851.78,407.86 852.11,407.86 852.44,407.86 852.78,407.86 853.11,407.86 853.44,407.86 853.77,407.86 854.11,407.86 854.44,407.86 854.77,407.86 855.10,407.86 855.44,407.86 855.77,408.15 856.10,408.71 856.43,409.27 856.77,409.84 857.10,410.40" fill="none" stroke="#d6655b" stroke-width="1.25" stroke-linejoin="round"/><line x1="795.3" y1="410.09999999999997" x2="801.9" y2="410.09999999999997" stroke="#d6655b" stroke-width="1.4"/><text x="825.8" y="338.9" font-size="9.6" fill="#383434" stroke="#383434" stroke-width="0.18" text-anchor="middle">5.79</text><text x="719.9" y="366.3" font-size="18.0" fill="#141414" stroke="#141414" stroke-width="0.5" textLength="89.0" lengthAdjust="spacingAndGlyphs"><tspan font-weight="bold" stroke-width="0.2">3-</tspan>硝基苯胺</text></g>
</svg></body></html>
